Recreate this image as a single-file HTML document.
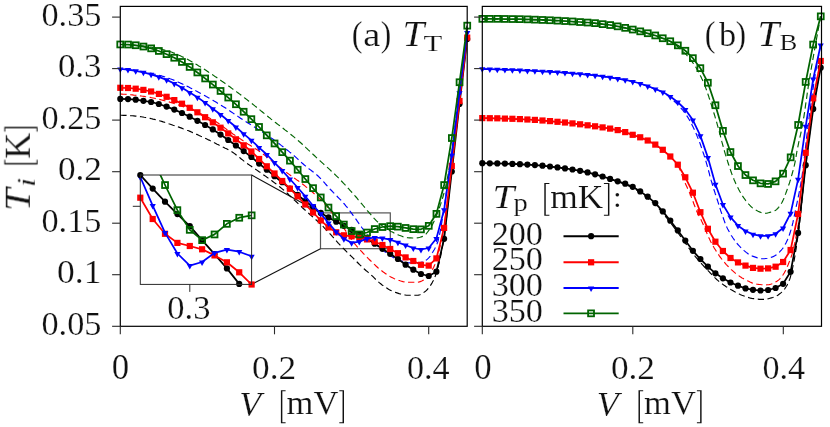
<!DOCTYPE html>
<html><head><meta charset="utf-8"><title>Ti vs V</title>
<style>
html,body{margin:0;padding:0;background:#fff;}
body{width:830px;height:427px;overflow:hidden;position:relative;font-family:"Liberation Serif",serif;}
</style></head><body>
<svg width="830" height="427" viewBox="0 0 830 427" style="position:absolute;left:0;top:0">
<defs>
<clipPath id="cl"><rect x="120.3" y="6.4" width="346.9" height="319.9"/></clipPath>
<clipPath id="cr"><rect x="482.3" y="6.4" width="339.2" height="319.9"/></clipPath>
<clipPath id="ci"><rect x="140.3" y="175.0" width="111.3" height="109.4"/></clipPath>
</defs>
<rect x="0" y="0" width="830" height="427" fill="#fff"/>
<rect x="320.5" y="212.9" width="69.8" height="35.8" fill="none" stroke="#555" stroke-width="1.2"/>
<line x1="251.6" y1="175.0" x2="320.5" y2="212.9" stroke="#111" stroke-width="1.15"/>
<line x1="251.6" y1="284.4" x2="320.5" y2="248.7" stroke="#111" stroke-width="1.15"/>
<polyline clip-path="url(#cl)" points="120.3,115.2 121.8,115.2 123.3,115.3 124.8,115.3 126.3,115.4 127.8,115.5 129.3,115.6 130.8,115.7 132.3,115.8 133.8,115.9 135.3,116.1 136.8,116.2 138.3,116.4 139.7,116.6 141.2,116.8 142.7,117.0 144.2,117.3 145.7,117.5 147.1,117.8 148.6,118.1 150.1,118.4 151.6,118.7 153.0,119.1 154.5,119.4 155.9,119.8 157.4,120.1 158.8,120.6 160.3,121.0 161.7,121.4 163.1,121.9 164.6,122.3 166.0,122.8 167.4,123.3 168.8,123.8 170.3,124.2 171.7,124.7 173.1,125.2 174.5,125.6 175.9,126.1 177.4,126.6 178.8,127.1 180.2,127.6 181.6,128.1 183.0,128.7 184.4,129.2 185.8,129.7 187.2,130.3 188.6,130.8 190.0,131.4 191.4,132.0 192.7,132.6 194.1,133.2 195.5,133.8 196.8,134.4 198.2,135.0 199.6,135.7 200.9,136.3 202.3,136.9 203.7,137.6 205.0,138.2 206.4,138.8 207.7,139.5 209.1,140.1 210.4,140.8 211.8,141.5 213.1,142.1 214.4,142.8 215.8,143.5 217.1,144.2 218.5,144.8 219.8,145.5 221.2,146.2 222.5,146.8 223.9,147.5 225.2,148.2 226.6,148.8 227.9,149.5 229.2,150.2 230.5,151.0 231.8,151.7 233.0,152.5 234.2,153.4 235.4,154.3 236.6,155.2 237.8,156.1 239.0,157.1 240.2,158.0 241.3,159.0 242.5,159.9 243.7,160.9 244.9,161.8 246.1,162.7 247.3,163.6 248.5,164.4 249.7,165.3 251.0,166.1 252.2,167.0 253.4,167.8 254.7,168.7 255.9,169.5 257.2,170.4 258.4,171.2 259.6,172.1 260.9,172.9 262.1,173.8 263.3,174.7 264.5,175.5 265.8,176.4 267.0,177.3 268.2,178.1 269.4,179.0 270.6,179.9 271.9,180.8 273.1,181.7 274.3,182.6 275.5,183.5 276.7,184.4 277.9,185.3 279.0,186.2 280.2,187.2 281.3,188.1 282.5,189.1 283.6,190.0 284.7,191.0 285.9,192.0 287.0,193.0 288.1,194.0 289.2,195.1 290.3,196.1 291.4,197.1 292.5,198.1 293.5,199.2 294.6,200.2 295.7,201.3 296.8,202.3 297.9,203.3 299.0,204.4 300.1,205.4 301.2,206.4 302.2,207.5 303.3,208.5 304.4,209.5 305.6,210.5 306.7,211.5 307.8,212.5 308.9,213.5 310.0,214.5 311.2,215.5 312.3,216.5 313.4,217.5 314.5,218.5 315.6,219.5 316.8,220.5 317.9,221.5 319.0,222.5 320.0,223.6 321.1,224.6 322.2,225.7 323.2,226.7 324.3,227.8 325.3,228.9 326.4,230.0 327.4,231.0 328.5,232.1 329.5,233.2 330.5,234.3 331.5,235.4 332.5,236.6 333.5,237.7 334.5,238.8 335.5,239.9 336.5,241.1 337.4,242.2 338.4,243.3 339.5,244.4 340.5,245.5 341.5,246.6 342.6,247.7 343.6,248.7 344.7,249.8 345.8,250.8 346.8,251.9 347.9,252.9 349.0,254.0 350.0,255.0 351.1,256.1 352.2,257.2 353.2,258.2 354.3,259.3 355.3,260.4 356.4,261.4 357.5,262.5 358.5,263.5 359.6,264.6 360.7,265.6 361.8,266.7 362.9,267.7 364.0,268.7 365.1,269.7 366.2,270.7 367.4,271.6 368.5,272.6 369.6,273.6 370.8,274.6 371.9,275.6 373.0,276.7 374.0,277.7 375.1,278.8 376.2,279.8 377.3,280.9 378.4,281.9 379.5,282.9 380.7,283.8 381.8,284.7 383.0,285.6 384.3,286.4 385.5,287.3 386.8,288.1 388.1,288.9 389.4,289.7 390.8,290.4 392.1,291.0 393.5,291.6 394.9,292.2 396.2,292.6 397.7,293.1 399.1,293.6 400.6,294.0 402.0,294.4 403.5,294.8 405.0,295.0 406.5,295.2 408.0,295.2 409.5,295.2 411.0,295.2 412.5,295.2 414.1,295.2 415.6,295.2 417.0,295.2 418.4,295.1 419.9,294.7 421.3,294.1 422.6,293.3 423.9,292.4 425.1,291.5 426.2,290.6 427.3,289.5 428.3,288.4 429.3,287.2 430.2,285.9 431.0,284.6 431.8,283.4 432.5,282.1 433.2,280.8 433.9,279.4 434.5,278.0 435.1,276.6 435.6,275.2 436.1,273.8 436.5,272.4 437.0,271.0 437.4,269.6 437.8,268.1 438.2,266.7 438.5,265.2 438.9,263.8 439.3,262.3 439.6,260.9 439.9,259.4 440.3,257.9 440.6,256.4 440.9,255.0 441.2,253.5 441.5,252.0 441.7,250.5 442.0,249.0 442.3,247.5 442.5,246.0 442.8,244.6 443.0,243.1 443.3,241.6 443.5,240.1 443.7,238.6 444.0,237.2 444.2,235.7 444.4,234.2 444.6,232.7 444.8,231.2 445.0,229.8 445.2,228.3 445.4,226.8 445.6,225.3 445.8,223.8 446.0,222.3 446.1,220.8 446.3,219.4 446.5,217.9 446.7,216.4 446.8,214.9 447.0,213.4 447.2,211.9 447.3,210.4 447.5,208.9 447.6,207.4 447.8,205.9 448.0,204.4 448.1,202.9 448.3,201.4 448.4,200.0 448.6,198.5 448.7,197.0 448.9,195.5 449.0,194.0 449.2,192.5 449.3,191.0 449.5,189.5 449.6,188.0 449.8,186.5 449.9,185.0 450.1,183.5 450.3,182.0 450.4,180.5 450.6,179.0 450.7,177.5 450.9,176.1 451.1,174.6 451.2,173.1 451.4,171.6 451.6,170.1 451.7,168.6 451.9,167.1 452.1,165.6 452.2,164.1 452.4,162.6 452.6,161.2 452.7,159.7 452.9,158.2 453.1,156.7 453.3,155.2 453.4,153.7 453.6,152.2 453.8,150.7 453.9,149.2 454.1,147.7 454.3,146.2 454.4,144.8 454.6,143.3 454.8,141.8 454.9,140.3 455.1,138.8 455.3,137.3 455.5,135.8 455.6,134.3 455.8,132.8 456.0,131.3 456.1,129.9 456.3,128.4 456.5,126.9 456.6,125.4 456.8,123.9 457.0,122.4 457.2,120.9 457.3,119.4 457.5,117.9 457.7,116.4 457.8,115.0 458.0,113.5 458.2,112.0 458.3,110.5 458.5,109.0 458.7,107.5 458.9,106.0 459.0,104.5 459.2,103.0 459.4,101.6 459.6,100.1 459.7,98.6 459.9,97.1 460.1,95.6 460.3,94.1 460.4,92.6 460.6,91.1 460.8,89.6 461.0,88.1 461.1,86.7 461.3,85.2 461.5,83.7 461.7,82.2 461.8,80.7 462.0,79.2 462.2,77.7 462.4,76.2 462.5,74.7 462.7,73.2 462.9,71.8 463.1,70.3 463.2,68.8 463.4,67.3 463.6,65.8 463.8,64.3 463.9,62.8 464.1,61.3 464.3,59.8 464.5,58.4 464.7,56.9 464.8,55.4 465.0,53.9 465.2,52.4 465.4,50.9 465.5,49.4 465.7,47.9 465.9,46.4 466.1,45.0 466.3,43.5 466.4,42.0 466.6,40.5 466.8,39.0" fill="none" stroke="#000000" stroke-width="1.15" stroke-dasharray="6.3 3.55"/>
<polyline clip-path="url(#cl)" points="120.3,94.0 121.8,94.1 123.3,94.2 124.8,94.3 126.3,94.4 127.8,94.5 129.3,94.6 130.8,94.8 132.3,94.9 133.7,95.1 135.2,95.2 136.7,95.4 138.2,95.6 139.7,95.8 141.2,96.0 142.7,96.2 144.1,96.4 145.6,96.7 147.1,96.9 148.6,97.2 150.1,97.4 151.5,97.7 153.0,98.0 154.5,98.3 155.9,98.6 157.4,98.9 158.9,99.3 160.3,99.6 161.8,100.0 163.2,100.4 164.7,100.7 166.1,101.1 167.6,101.5 169.0,101.9 170.4,102.4 171.9,102.8 173.3,103.3 174.7,103.7 176.2,104.2 177.6,104.7 179.0,105.1 180.4,105.6 181.8,106.1 183.2,106.6 184.6,107.1 186.1,107.6 187.5,108.2 188.9,108.7 190.3,109.3 191.7,109.8 193.0,110.4 194.4,111.0 195.8,111.5 197.2,112.1 198.5,112.7 199.9,113.4 201.3,114.0 202.6,114.6 204.0,115.3 205.3,115.9 206.7,116.6 208.0,117.3 209.4,118.0 210.7,118.7 212.0,119.4 213.3,120.1 214.6,120.9 215.9,121.6 217.1,122.4 218.4,123.3 219.6,124.1 220.8,125.0 222.0,125.9 223.2,126.8 224.4,127.7 225.6,128.6 226.8,129.5 228.0,130.4 229.2,131.3 230.5,132.1 231.7,133.0 232.9,133.9 234.2,134.7 235.4,135.6 236.6,136.4 237.9,137.2 239.1,138.1 240.4,138.9 241.6,139.8 242.8,140.6 244.1,141.4 245.3,142.2 246.6,143.1 247.8,143.9 249.1,144.7 250.4,145.5 251.6,146.3 252.9,147.1 254.2,147.9 255.4,148.7 256.7,149.5 258.0,150.3 259.2,151.2 260.4,152.0 261.6,152.9 262.8,153.8 264.0,154.7 265.2,155.6 266.4,156.5 267.6,157.4 268.8,158.4 269.9,159.3 271.1,160.3 272.3,161.2 273.4,162.2 274.6,163.1 275.7,164.1 276.9,165.0 278.1,165.9 279.2,166.9 280.4,167.8 281.6,168.7 282.8,169.7 284.0,170.6 285.2,171.5 286.4,172.4 287.6,173.3 288.8,174.1 290.0,175.0 291.2,175.9 292.5,176.8 293.7,177.6 294.9,178.5 296.1,179.4 297.3,180.3 298.6,181.1 299.8,182.0 301.0,182.9 302.2,183.8 303.4,184.7 304.6,185.6 305.7,186.6 306.9,187.5 308.1,188.4 309.2,189.4 310.3,190.3 311.5,191.3 312.6,192.3 313.7,193.3 314.9,194.3 316.0,195.3 317.1,196.3 318.2,197.3 319.3,198.4 320.4,199.4 321.5,200.5 322.5,201.5 323.6,202.6 324.6,203.7 325.6,204.8 326.6,205.9 327.6,207.0 328.5,208.1 329.5,209.3 330.4,210.5 331.2,211.7 332.1,212.9 333.0,214.2 333.8,215.4 334.7,216.6 335.6,217.9 336.5,219.1 337.4,220.2 338.3,221.4 339.3,222.6 340.2,223.8 341.1,225.0 342.0,226.1 343.0,227.3 343.9,228.5 344.8,229.7 345.7,230.9 346.5,232.1 347.4,233.4 348.2,234.6 349.0,235.9 349.9,237.1 350.7,238.4 351.6,239.6 352.4,240.8 353.3,242.0 354.3,243.2 355.2,244.3 356.2,245.5 357.1,246.6 358.1,247.7 359.1,248.9 360.2,250.0 361.2,251.1 362.2,252.2 363.2,253.3 364.2,254.4 365.3,255.4 366.3,256.5 367.4,257.6 368.4,258.7 369.5,259.7 370.6,260.7 371.6,261.8 372.7,262.8 373.8,263.9 374.9,264.9 376.0,266.0 377.1,267.0 378.2,268.0 379.4,268.9 380.5,269.9 381.7,270.8 382.9,271.7 384.1,272.6 385.3,273.4 386.6,274.3 387.9,275.1 389.1,276.0 390.4,276.7 391.8,277.4 393.1,278.1 394.4,278.7 395.8,279.2 397.2,279.7 398.6,280.3 400.1,280.8 401.5,281.2 403.0,281.6 404.5,281.9 406.0,282.1 407.5,282.2 408.9,282.2 410.5,282.2 412.0,282.2 413.5,282.2 415.0,282.2 416.5,282.2 417.9,282.2 419.4,281.9 420.8,281.4 422.2,280.7 423.6,279.9 424.8,279.1 426.0,278.3 427.0,277.3 428.1,276.1 429.0,274.9 429.9,273.7 430.8,272.4 431.6,271.1 432.3,269.8 433.0,268.5 433.7,267.2 434.3,265.8 434.9,264.4 435.4,263.0 435.9,261.6 436.4,260.2 436.9,258.7 437.3,257.3 437.7,255.9 438.1,254.5 438.5,253.0 438.9,251.6 439.2,250.1 439.6,248.7 439.9,247.2 440.3,245.7 440.6,244.3 440.9,242.8 441.2,241.3 441.5,239.8 441.8,238.3 442.1,236.9 442.4,235.4 442.7,233.9 442.9,232.4 443.2,230.9 443.4,229.5 443.7,228.0 443.9,226.5 444.2,225.0 444.4,223.6 444.6,222.1 444.8,220.6 445.1,219.1 445.3,217.7 445.5,216.2 445.7,214.7 445.9,213.2 446.1,211.7 446.3,210.2 446.5,208.8 446.7,207.3 446.8,205.8 447.0,204.3 447.2,202.8 447.4,201.3 447.6,199.8 447.7,198.3 447.9,196.8 448.1,195.4 448.2,193.9 448.4,192.4 448.6,190.9 448.7,189.4 448.9,187.9 449.1,186.4 449.2,184.9 449.4,183.4 449.6,181.9 449.7,180.4 449.9,179.0 450.1,177.5 450.2,176.0 450.4,174.5 450.6,173.0 450.7,171.5 450.9,170.0 451.1,168.5 451.3,167.0 451.5,165.5 451.6,164.1 451.8,162.6 452.0,161.1 452.2,159.6 452.4,158.1 452.5,156.6 452.7,155.1 452.9,153.6 453.1,152.2 453.2,150.7 453.4,149.2 453.6,147.7 453.8,146.2 453.9,144.7 454.1,143.2 454.3,141.7 454.5,140.3 454.6,138.8 454.8,137.3 455.0,135.8 455.2,134.3 455.3,132.8 455.5,131.3 455.7,129.8 455.9,128.3 456.0,126.9 456.2,125.4 456.4,123.9 456.6,122.4 456.7,120.9 456.9,119.4 457.1,117.9 457.3,116.4 457.4,115.0 457.6,113.5 457.8,112.0 458.0,110.5 458.1,109.0 458.3,107.5 458.5,106.0 458.7,104.5 458.9,103.0 459.0,101.6 459.2,100.1 459.4,98.6 459.6,97.1 459.7,95.6 459.9,94.1 460.1,92.6 460.3,91.1 460.5,89.7 460.6,88.2 460.8,86.7 461.0,85.2 461.2,83.7 461.4,82.2 461.5,80.7 461.7,79.2 461.9,77.8 462.1,76.3 462.3,74.8 462.4,73.3 462.6,71.8 462.8,70.3 463.0,68.8 463.2,67.3 463.3,65.9 463.5,64.4 463.7,62.9 463.9,61.4 464.1,59.9 464.3,58.4 464.4,56.9 464.6,55.4 464.8,54.0 465.0,52.5 465.2,51.0 465.3,49.5 465.5,48.0 465.7,46.5 465.9,45.0 466.1,43.5 466.3,42.1 466.4,40.6 466.6,39.1 466.8,37.6" fill="none" stroke="#ff0000" stroke-width="1.15" stroke-dasharray="6.3 3.55"/>
<polyline clip-path="url(#cl)" points="120.3,69.0 121.8,69.1 123.3,69.2 124.8,69.4 126.3,69.5 127.8,69.7 129.2,69.8 130.7,70.0 132.2,70.2 133.7,70.3 135.2,70.5 136.7,70.7 138.1,70.9 139.6,71.2 141.1,71.4 142.6,71.7 144.1,71.9 145.5,72.2 147.0,72.5 148.5,72.8 149.9,73.1 151.4,73.4 152.9,73.7 154.3,74.1 155.8,74.4 157.2,74.8 158.7,75.2 160.1,75.6 161.6,76.0 163.0,76.4 164.4,76.8 165.8,77.3 167.3,77.8 168.7,78.2 170.1,78.8 171.5,79.3 172.9,79.8 174.3,80.4 175.6,81.0 177.0,81.6 178.4,82.2 179.8,82.8 181.1,83.4 182.5,84.0 183.8,84.7 185.2,85.3 186.5,86.0 187.9,86.6 189.2,87.3 190.5,88.0 191.9,88.7 193.2,89.4 194.5,90.1 195.8,90.8 197.2,91.5 198.5,92.2 199.8,92.9 201.1,93.6 202.4,94.4 203.7,95.1 205.0,95.8 206.3,96.6 207.6,97.3 208.9,98.0 210.2,98.8 211.5,99.6 212.8,100.3 214.1,101.1 215.4,101.8 216.7,102.6 217.9,103.4 219.2,104.2 220.5,105.0 221.8,105.7 223.0,106.5 224.3,107.3 225.6,108.1 226.8,108.9 228.1,109.8 229.3,110.6 230.6,111.4 231.8,112.2 233.1,113.1 234.3,113.9 235.5,114.8 236.8,115.6 238.0,116.5 239.2,117.3 240.5,118.2 241.7,119.0 242.9,119.8 244.2,120.6 245.5,121.4 246.7,122.2 248.0,123.0 249.3,123.8 250.5,124.6 251.8,125.4 253.1,126.2 254.4,127.0 255.6,127.8 256.9,128.6 258.1,129.4 259.4,130.2 260.7,131.0 261.9,131.8 263.2,132.6 264.4,133.4 265.7,134.2 266.9,135.1 268.2,135.9 269.4,136.7 270.7,137.6 271.9,138.4 273.1,139.3 274.3,140.2 275.5,141.1 276.7,141.9 277.9,142.8 279.1,143.7 280.3,144.6 281.5,145.6 282.7,146.5 283.9,147.4 285.1,148.3 286.2,149.3 287.4,150.2 288.6,151.1 289.7,152.1 290.9,153.0 292.0,154.0 293.2,155.0 294.3,155.9 295.4,156.9 296.5,157.9 297.6,158.9 298.7,159.9 299.8,161.0 300.9,162.0 302.0,163.0 303.2,164.0 304.3,165.0 305.4,165.9 306.6,166.9 307.8,167.8 308.9,168.7 310.1,169.6 311.3,170.5 312.5,171.5 313.7,172.4 314.9,173.3 316.0,174.3 317.2,175.2 318.3,176.2 319.3,177.3 320.4,178.3 321.4,179.4 322.4,180.5 323.4,181.6 324.4,182.7 325.4,183.9 326.4,185.0 327.4,186.1 328.4,187.2 329.4,188.4 330.4,189.5 331.5,190.5 332.5,191.6 333.5,192.7 334.6,193.8 335.6,194.8 336.7,195.9 337.7,197.0 338.8,198.1 339.8,199.1 340.9,200.2 341.9,201.3 342.9,202.4 343.9,203.5 344.9,204.6 345.8,205.8 346.8,206.9 347.7,208.1 348.6,209.3 349.5,210.5 350.4,211.7 351.3,212.9 352.2,214.1 353.1,215.3 354.0,216.5 354.8,217.7 355.7,218.9 356.6,220.2 357.4,221.4 358.3,222.6 359.2,223.8 360.0,225.0 360.9,226.2 361.8,227.5 362.7,228.7 363.6,229.9 364.5,231.1 365.4,232.2 366.3,233.4 367.3,234.6 368.2,235.7 369.2,236.9 370.2,238.0 371.2,239.1 372.2,240.2 373.2,241.3 374.3,242.4 375.3,243.4 376.4,244.4 377.5,245.5 378.6,246.5 379.7,247.5 380.9,248.5 382.0,249.4 383.2,250.4 384.3,251.4 385.5,252.3 386.6,253.3 387.8,254.2 389.0,255.1 390.3,255.8 391.6,256.6 392.9,257.3 394.2,258.1 395.6,258.7 396.9,259.3 398.3,259.9 399.7,260.4 401.1,260.9 402.6,261.3 404.0,261.8 405.5,262.2 407.0,262.5 408.4,262.8 409.9,262.9 411.4,262.9 412.9,262.9 414.4,262.8 415.9,262.8 417.4,262.7 418.9,262.6 420.4,262.5 421.8,262.1 423.3,261.6 424.7,260.9 426.0,260.2 427.2,259.4 428.2,258.4 429.2,257.3 430.2,256.1 431.0,254.8 431.9,253.5 432.7,252.2 433.4,251.0 434.2,249.7 435.0,248.3 435.7,247.0 436.3,245.6 436.9,244.3 437.4,242.9 437.9,241.5 438.3,240.1 438.6,238.7 439.0,237.2 439.3,235.8 439.6,234.3 439.9,232.9 440.2,231.4 440.5,229.9 440.8,228.5 441.0,227.0 441.3,225.5 441.5,224.0 441.8,222.5 442.0,221.0 442.2,219.5 442.4,218.0 442.7,216.5 442.9,215.0 443.1,213.5 443.3,212.0 443.6,210.6 443.8,209.1 444.1,207.6 444.3,206.1 444.5,204.6 444.7,203.2 445.0,201.7 445.2,200.2 445.4,198.7 445.6,197.3 445.9,195.8 446.1,194.3 446.3,192.8 446.5,191.3 446.7,189.8 446.9,188.4 447.1,186.9 447.3,185.4 447.5,183.9 447.8,182.4 448.0,181.0 448.2,179.5 448.4,178.0 448.6,176.5 448.8,175.0 449.0,173.5 449.2,172.1 449.4,170.6 449.5,169.1 449.7,167.6 449.9,166.1 450.1,164.6 450.3,163.1 450.5,161.7 450.7,160.2 450.9,158.7 451.1,157.2 451.3,155.7 451.5,154.2 451.7,152.8 451.9,151.3 452.1,149.8 452.3,148.3 452.5,146.8 452.6,145.3 452.8,143.9 453.0,142.4 453.2,140.9 453.4,139.4 453.6,137.9 453.8,136.4 453.9,134.9 454.1,133.5 454.3,132.0 454.5,130.5 454.7,129.0 454.9,127.5 455.0,126.0 455.2,124.6 455.4,123.1 455.6,121.6 455.8,120.1 455.9,118.6 456.1,117.1 456.3,115.6 456.5,114.2 456.7,112.7 456.8,111.2 457.0,109.7 457.2,108.2 457.4,106.7 457.6,105.2 457.7,103.8 457.9,102.3 458.1,100.8 458.3,99.3 458.5,97.8 458.7,96.3 458.8,94.8 459.0,93.4 459.2,91.9 459.4,90.4 459.6,88.9 459.8,87.4 460.0,85.9 460.2,84.5 460.3,83.0 460.5,81.5 460.7,80.0 460.9,78.5 461.1,77.0 461.3,75.5 461.5,74.1 461.7,72.6 461.8,71.1 462.0,69.6 462.2,68.1 462.4,66.6 462.6,65.2 462.8,63.7 463.0,62.2 463.2,60.7 463.4,59.2 463.5,57.7 463.7,56.2 463.9,54.8 464.1,53.3 464.3,51.8 464.5,50.3 464.7,48.8 464.9,47.3 465.1,45.9 465.3,44.4 465.5,42.9 465.6,41.4 465.8,39.9 466.0,38.4 466.2,37.0 466.4,35.5 466.6,34.0 466.8,32.5" fill="none" stroke="#0000ff" stroke-width="1.15" stroke-dasharray="6.3 3.55"/>
<polyline clip-path="url(#cl)" points="120.3,44.5 121.8,44.5 123.3,44.5 124.8,44.6 126.3,44.6 127.8,44.7 129.3,44.8 130.8,44.9 132.3,45.0 133.8,45.1 135.3,45.2 136.8,45.3 138.3,45.4 139.7,45.6 141.2,45.7 142.7,45.9 144.2,46.1 145.7,46.4 147.2,46.6 148.7,46.8 150.1,47.1 151.6,47.3 153.1,47.6 154.6,47.8 156.1,48.1 157.5,48.4 159.0,48.7 160.5,49.0 161.9,49.3 163.4,49.7 164.8,50.1 166.3,50.4 167.7,50.9 169.1,51.3 170.5,51.8 172.0,52.3 173.4,52.9 174.8,53.4 176.1,54.0 177.5,54.6 178.9,55.2 180.3,55.8 181.6,56.5 183.0,57.1 184.3,57.8 185.7,58.4 187.0,59.1 188.3,59.8 189.6,60.6 190.9,61.3 192.2,62.0 193.5,62.8 194.8,63.6 196.1,64.3 197.4,65.1 198.7,65.9 200.0,66.6 201.3,67.4 202.5,68.2 203.8,69.0 205.1,69.8 206.3,70.6 207.6,71.5 208.8,72.3 210.1,73.1 211.3,74.0 212.6,74.8 213.8,75.6 215.0,76.5 216.3,77.3 217.5,78.1 218.8,79.0 220.0,79.9 221.2,80.7 222.4,81.6 223.7,82.4 224.9,83.3 226.1,84.2 227.3,85.1 228.5,85.9 229.8,86.8 231.0,87.7 232.2,88.6 233.4,89.5 234.6,90.3 235.8,91.2 237.0,92.1 238.2,93.0 239.4,93.9 240.6,94.8 241.8,95.7 243.0,96.6 244.2,97.6 245.4,98.5 246.6,99.4 247.7,100.3 248.9,101.2 250.1,102.1 251.3,103.1 252.5,104.0 253.6,104.9 254.8,105.9 256.0,106.8 257.1,107.7 258.3,108.7 259.5,109.6 260.6,110.6 261.8,111.5 263.0,112.5 264.1,113.4 265.3,114.4 266.4,115.3 267.6,116.2 268.8,117.2 270.0,118.1 271.1,119.1 272.3,120.0 273.5,120.9 274.6,121.9 275.8,122.8 277.0,123.7 278.2,124.6 279.4,125.5 280.6,126.4 281.8,127.4 283.0,128.3 284.2,129.2 285.3,130.1 286.5,131.0 287.7,131.9 288.9,132.9 290.1,133.8 291.2,134.7 292.4,135.7 293.6,136.6 294.7,137.6 295.9,138.5 297.0,139.5 298.1,140.5 299.2,141.5 300.4,142.5 301.5,143.5 302.6,144.5 303.7,145.5 304.8,146.5 305.9,147.6 307.0,148.6 308.0,149.6 309.1,150.6 310.2,151.7 311.3,152.7 312.4,153.7 313.5,154.8 314.6,155.8 315.7,156.8 316.8,157.9 317.9,158.9 319.0,159.9 320.1,160.9 321.2,161.9 322.3,162.9 323.4,163.9 324.5,164.9 325.7,165.9 326.8,166.9 327.9,167.9 329.0,168.9 330.1,169.9 331.2,171.0 332.3,172.0 333.4,173.0 334.5,174.0 335.6,175.1 336.6,176.1 337.7,177.2 338.7,178.2 339.8,179.3 340.8,180.4 341.9,181.5 342.9,182.6 343.9,183.7 344.9,184.7 346.0,185.8 347.0,187.0 348.0,188.1 349.0,189.2 350.0,190.3 351.0,191.4 352.0,192.5 353.0,193.6 354.0,194.8 355.0,195.9 356.0,197.0 357.0,198.1 357.9,199.3 358.9,200.4 359.9,201.6 360.8,202.7 361.8,203.9 362.7,205.0 363.7,206.2 364.7,207.3 365.6,208.5 366.6,209.7 367.5,210.8 368.5,211.9 369.5,213.1 370.5,214.2 371.4,215.3 372.4,216.5 373.4,217.6 374.4,218.7 375.5,219.8 376.5,220.9 377.6,221.9 378.7,222.9 379.9,223.8 381.0,224.8 382.2,225.7 383.5,226.6 384.7,227.4 385.9,228.3 387.2,229.1 388.5,229.9 389.7,230.7 391.0,231.4 392.4,232.1 393.7,232.8 395.0,233.5 396.4,234.1 397.8,234.7 399.2,235.3 400.6,235.8 402.0,236.3 403.4,236.9 404.9,237.3 406.3,237.6 407.8,237.8 409.3,237.9 410.8,237.9 412.3,238.0 413.8,238.0 415.3,238.0 416.8,237.9 418.3,237.7 419.9,237.3 421.3,236.9 422.6,236.4 423.8,235.8 425.0,234.9 426.1,233.9 427.1,232.7 428.1,231.4 429.0,230.1 429.9,228.8 430.7,227.6 431.4,226.4 432.2,225.1 432.9,223.8 433.5,222.4 434.2,221.0 434.8,219.6 435.4,218.2 436.0,216.8 436.6,215.4 437.1,214.0 437.7,212.6 438.2,211.2 438.7,209.8 439.2,208.4 439.7,207.0 440.2,205.6 440.7,204.2 441.1,202.7 441.6,201.3 442.0,199.9 442.5,198.4 442.9,197.0 443.3,195.5 443.7,194.1 444.1,192.6 444.5,191.2 444.9,189.7 445.2,188.3 445.6,186.8 445.9,185.4 446.2,183.9 446.5,182.5 446.9,181.0 447.1,179.5 447.4,178.1 447.7,176.6 448.0,175.1 448.3,173.7 448.5,172.2 448.8,170.7 449.0,169.2 449.3,167.8 449.5,166.3 449.8,164.8 450.0,163.3 450.2,161.8 450.5,160.3 450.7,158.9 450.9,157.4 451.2,155.9 451.4,154.4 451.6,152.9 451.8,151.4 452.0,149.9 452.3,148.5 452.5,147.0 452.7,145.5 452.9,144.0 453.1,142.5 453.3,141.0 453.6,139.5 453.8,138.1 454.0,136.6 454.2,135.1 454.5,133.6 454.7,132.1 454.9,130.7 455.1,129.2 455.3,127.7 455.5,126.2 455.8,124.7 456.0,123.2 456.2,121.8 456.4,120.3 456.6,118.8 456.8,117.3 457.0,115.8 457.2,114.3 457.4,112.8 457.6,111.4 457.8,109.9 458.0,108.4 458.2,106.9 458.4,105.4 458.6,103.9 458.8,102.4 459.0,101.0 459.2,99.5 459.4,98.0 459.6,96.5 459.8,95.0 460.0,93.5 460.2,92.0 460.4,90.6 460.6,89.1 460.8,87.6 461.0,86.1 461.2,84.6 461.4,83.1 461.6,81.6 461.8,80.2 462.0,78.7 462.2,77.2 462.4,75.7 462.6,74.2 462.7,72.7 462.9,71.2 463.1,69.8 463.3,68.3 463.5,66.8 463.7,65.3 463.9,63.8 464.1,62.3 464.3,60.8 464.4,59.3 464.6,57.9 464.8,56.4 465.0,54.9 465.2,53.4 465.4,51.9 465.5,50.4 465.7,48.9 465.9,47.4 466.1,46.0 466.3,44.5 466.4,43.0 466.6,41.5 466.8,40.0" fill="none" stroke="#006400" stroke-width="1.15" stroke-dasharray="6.3 3.55"/>
<polyline clip-path="url(#cl)" points="120.3,98.9 128.0,99.1 135.7,99.7 143.4,100.8 151.1,102.0 158.8,104.0 166.6,106.6 174.3,109.6 182.0,113.0 189.7,116.7 197.4,120.8 205.1,125.0 212.8,129.4 220.5,134.6 228.2,140.0 235.9,145.5 243.7,151.1 251.4,157.0 259.1,163.6 266.8,169.7 274.5,176.2 282.2,182.2 289.9,188.5 297.6,194.9 305.3,201.0 313.1,207.2 320.8,212.9 328.5,217.4 336.2,221.7 343.9,225.8 351.6,229.8 359.3,234.4 367.0,239.0 374.7,243.7 382.4,248.8 390.2,253.9 397.9,258.9 405.6,264.7 413.3,269.7 421.0,274.0 428.7,276.0 436.4,271.7 444.1,238.8 451.8,171.5 459.5,104.0 467.2,39.0" fill="none" stroke="#000000" stroke-width="1.75" stroke-linejoin="round"/>
<g><circle cx="120.3" cy="98.9" r="3.10" fill="#000"/><circle cx="128.0" cy="99.1" r="3.10" fill="#000"/><circle cx="135.7" cy="99.7" r="3.10" fill="#000"/><circle cx="143.4" cy="100.8" r="3.10" fill="#000"/><circle cx="151.1" cy="102.0" r="3.10" fill="#000"/><circle cx="158.8" cy="104.0" r="3.10" fill="#000"/><circle cx="166.6" cy="106.6" r="3.10" fill="#000"/><circle cx="174.3" cy="109.6" r="3.10" fill="#000"/><circle cx="182.0" cy="113.0" r="3.10" fill="#000"/><circle cx="189.7" cy="116.7" r="3.10" fill="#000"/><circle cx="197.4" cy="120.8" r="3.10" fill="#000"/><circle cx="205.1" cy="125.0" r="3.10" fill="#000"/><circle cx="212.8" cy="129.4" r="3.10" fill="#000"/><circle cx="220.5" cy="134.6" r="3.10" fill="#000"/><circle cx="228.2" cy="140.0" r="3.10" fill="#000"/><circle cx="235.9" cy="145.5" r="3.10" fill="#000"/><circle cx="243.7" cy="151.1" r="3.10" fill="#000"/><circle cx="251.4" cy="157.0" r="3.10" fill="#000"/><circle cx="259.1" cy="163.6" r="3.10" fill="#000"/><circle cx="266.8" cy="169.7" r="3.10" fill="#000"/><circle cx="274.5" cy="176.2" r="3.10" fill="#000"/><circle cx="282.2" cy="182.2" r="3.10" fill="#000"/><circle cx="289.9" cy="188.5" r="3.10" fill="#000"/><circle cx="297.6" cy="194.9" r="3.10" fill="#000"/><circle cx="305.3" cy="201.0" r="3.10" fill="#000"/><circle cx="313.1" cy="207.2" r="3.10" fill="#000"/><circle cx="320.8" cy="212.9" r="3.10" fill="#000"/><circle cx="328.5" cy="217.4" r="3.10" fill="#000"/><circle cx="336.2" cy="221.7" r="3.10" fill="#000"/><circle cx="343.9" cy="225.8" r="3.10" fill="#000"/><circle cx="351.6" cy="229.8" r="3.10" fill="#000"/><circle cx="359.3" cy="234.4" r="3.10" fill="#000"/><circle cx="367.0" cy="239.0" r="3.10" fill="#000"/><circle cx="374.7" cy="243.7" r="3.10" fill="#000"/><circle cx="382.4" cy="248.8" r="3.10" fill="#000"/><circle cx="390.2" cy="253.9" r="3.10" fill="#000"/><circle cx="397.9" cy="258.9" r="3.10" fill="#000"/><circle cx="405.6" cy="264.7" r="3.10" fill="#000"/><circle cx="413.3" cy="269.7" r="3.10" fill="#000"/><circle cx="421.0" cy="274.0" r="3.10" fill="#000"/><circle cx="428.7" cy="276.0" r="3.10" fill="#000"/><circle cx="436.4" cy="271.7" r="3.10" fill="#000"/><circle cx="444.1" cy="238.8" r="3.10" fill="#000"/><circle cx="451.8" cy="171.5" r="3.10" fill="#000"/><circle cx="459.5" cy="104.0" r="3.10" fill="#000"/><circle cx="467.2" cy="39.0" r="3.10" fill="#000"/></g>
<polyline clip-path="url(#cl)" points="120.3,87.8 128.0,88.0 135.7,88.7 143.4,89.9 151.1,91.5 158.8,93.9 166.6,96.8 174.3,100.1 182.0,103.7 189.7,107.8 197.4,112.3 205.1,117.2 212.8,122.3 220.5,127.7 228.2,133.4 235.9,139.3 243.7,145.3 251.4,151.5 259.1,159.0 266.8,166.3 274.5,173.5 282.2,181.0 289.9,188.7 297.6,196.3 305.3,204.5 313.1,212.5 320.8,220.4 328.5,227.4 336.2,232.3 343.9,235.3 351.6,236.3 359.3,237.4 367.0,239.4 374.7,241.7 382.4,245.0 390.2,249.0 397.9,253.2 405.6,257.4 413.3,261.0 421.0,264.8 428.7,265.6 436.4,258.4 444.1,227.9 451.8,166.0 459.5,101.0 467.2,37.6" fill="none" stroke="#ff0000" stroke-width="1.75" stroke-linejoin="round"/>
<g><rect x="117.2" y="84.7" width="6.2" height="6.2" fill="#f00"/><rect x="124.9" y="84.9" width="6.2" height="6.2" fill="#f00"/><rect x="132.6" y="85.6" width="6.2" height="6.2" fill="#f00"/><rect x="140.3" y="86.8" width="6.2" height="6.2" fill="#f00"/><rect x="148.0" y="88.4" width="6.2" height="6.2" fill="#f00"/><rect x="155.8" y="90.8" width="6.2" height="6.2" fill="#f00"/><rect x="163.5" y="93.7" width="6.2" height="6.2" fill="#f00"/><rect x="171.2" y="97.0" width="6.2" height="6.2" fill="#f00"/><rect x="178.9" y="100.6" width="6.2" height="6.2" fill="#f00"/><rect x="186.6" y="104.7" width="6.2" height="6.2" fill="#f00"/><rect x="194.3" y="109.2" width="6.2" height="6.2" fill="#f00"/><rect x="202.0" y="114.1" width="6.2" height="6.2" fill="#f00"/><rect x="209.7" y="119.2" width="6.2" height="6.2" fill="#f00"/><rect x="217.4" y="124.6" width="6.2" height="6.2" fill="#f00"/><rect x="225.1" y="130.3" width="6.2" height="6.2" fill="#f00"/><rect x="232.8" y="136.2" width="6.2" height="6.2" fill="#f00"/><rect x="240.6" y="142.2" width="6.2" height="6.2" fill="#f00"/><rect x="248.3" y="148.4" width="6.2" height="6.2" fill="#f00"/><rect x="256.0" y="155.9" width="6.2" height="6.2" fill="#f00"/><rect x="263.7" y="163.2" width="6.2" height="6.2" fill="#f00"/><rect x="271.4" y="170.4" width="6.2" height="6.2" fill="#f00"/><rect x="279.1" y="177.9" width="6.2" height="6.2" fill="#f00"/><rect x="286.8" y="185.6" width="6.2" height="6.2" fill="#f00"/><rect x="294.5" y="193.2" width="6.2" height="6.2" fill="#f00"/><rect x="302.2" y="201.4" width="6.2" height="6.2" fill="#f00"/><rect x="309.9" y="209.4" width="6.2" height="6.2" fill="#f00"/><rect x="317.7" y="217.3" width="6.2" height="6.2" fill="#f00"/><rect x="325.4" y="224.3" width="6.2" height="6.2" fill="#f00"/><rect x="333.1" y="229.2" width="6.2" height="6.2" fill="#f00"/><rect x="340.8" y="232.2" width="6.2" height="6.2" fill="#f00"/><rect x="348.5" y="233.2" width="6.2" height="6.2" fill="#f00"/><rect x="356.2" y="234.3" width="6.2" height="6.2" fill="#f00"/><rect x="363.9" y="236.3" width="6.2" height="6.2" fill="#f00"/><rect x="371.6" y="238.6" width="6.2" height="6.2" fill="#f00"/><rect x="379.3" y="241.9" width="6.2" height="6.2" fill="#f00"/><rect x="387.1" y="245.9" width="6.2" height="6.2" fill="#f00"/><rect x="394.8" y="250.1" width="6.2" height="6.2" fill="#f00"/><rect x="402.5" y="254.3" width="6.2" height="6.2" fill="#f00"/><rect x="410.2" y="257.9" width="6.2" height="6.2" fill="#f00"/><rect x="417.9" y="261.7" width="6.2" height="6.2" fill="#f00"/><rect x="425.6" y="262.5" width="6.2" height="6.2" fill="#f00"/><rect x="433.3" y="255.3" width="6.2" height="6.2" fill="#f00"/><rect x="441.0" y="224.8" width="6.2" height="6.2" fill="#f00"/><rect x="448.7" y="162.9" width="6.2" height="6.2" fill="#f00"/><rect x="456.4" y="97.9" width="6.2" height="6.2" fill="#f00"/><rect x="464.1" y="34.5" width="6.2" height="6.2" fill="#f00"/></g>
<polyline clip-path="url(#cl)" points="120.3,69.0 128.0,69.7 135.7,70.9 143.4,72.4 151.1,74.4 158.8,76.9 166.6,79.9 174.3,83.5 182.0,87.8 189.7,92.5 197.4,97.3 205.1,102.6 212.8,108.8 220.5,114.5 228.2,120.7 235.9,127.0 243.7,133.9 251.4,140.3 259.1,147.6 266.8,154.5 274.5,162.6 282.2,170.6 289.9,179.0 297.6,187.5 305.3,196.3 313.1,205.7 320.8,213.6 328.5,223.0 336.2,231.9 343.9,238.8 351.6,242.8 359.3,241.6 367.0,238.6 374.7,237.5 382.4,238.2 390.2,239.7 397.9,242.4 405.6,245.2 413.3,248.0 421.0,249.5 428.7,248.0 436.4,238.5 444.1,209.8 451.8,155.0 459.5,92.8 467.2,32.5" fill="none" stroke="#0000ff" stroke-width="1.75" stroke-linejoin="round"/>
<g><path d="M117.2 67.4L123.4 67.4L120.3 72.9Z" fill="#00f"/><path d="M124.9 68.1L131.1 68.1L128.0 73.6Z" fill="#00f"/><path d="M132.6 69.3L138.8 69.3L135.7 74.8Z" fill="#00f"/><path d="M140.3 70.8L146.5 70.8L143.4 76.3Z" fill="#00f"/><path d="M148.0 72.8L154.2 72.8L151.1 78.3Z" fill="#00f"/><path d="M155.8 75.3L161.9 75.3L158.8 80.8Z" fill="#00f"/><path d="M163.5 78.3L169.7 78.3L166.6 83.8Z" fill="#00f"/><path d="M171.2 81.9L177.4 81.9L174.3 87.4Z" fill="#00f"/><path d="M178.9 86.2L185.1 86.2L182.0 91.7Z" fill="#00f"/><path d="M186.6 90.9L192.8 90.9L189.7 96.4Z" fill="#00f"/><path d="M194.3 95.7L200.5 95.7L197.4 101.2Z" fill="#00f"/><path d="M202.0 101.0L208.2 101.0L205.1 106.5Z" fill="#00f"/><path d="M209.7 107.2L215.9 107.2L212.8 112.7Z" fill="#00f"/><path d="M217.4 112.9L223.6 112.9L220.5 118.4Z" fill="#00f"/><path d="M225.1 119.1L231.3 119.1L228.2 124.6Z" fill="#00f"/><path d="M232.8 125.4L239.0 125.4L235.9 130.9Z" fill="#00f"/><path d="M240.6 132.3L246.8 132.3L243.7 137.8Z" fill="#00f"/><path d="M248.3 138.7L254.5 138.7L251.4 144.2Z" fill="#00f"/><path d="M256.0 146.0L262.2 146.0L259.1 151.5Z" fill="#00f"/><path d="M263.7 152.9L269.9 152.9L266.8 158.4Z" fill="#00f"/><path d="M271.4 161.0L277.6 161.0L274.5 166.5Z" fill="#00f"/><path d="M279.1 169.0L285.3 169.0L282.2 174.5Z" fill="#00f"/><path d="M286.8 177.4L293.0 177.4L289.9 182.9Z" fill="#00f"/><path d="M294.5 185.9L300.7 185.9L297.6 191.4Z" fill="#00f"/><path d="M302.2 194.7L308.4 194.7L305.3 200.2Z" fill="#00f"/><path d="M309.9 204.1L316.2 204.1L313.1 209.6Z" fill="#00f"/><path d="M317.7 212.0L323.9 212.0L320.8 217.5Z" fill="#00f"/><path d="M325.4 221.4L331.6 221.4L328.5 226.9Z" fill="#00f"/><path d="M333.1 230.3L339.3 230.3L336.2 235.8Z" fill="#00f"/><path d="M340.8 237.2L347.0 237.2L343.9 242.7Z" fill="#00f"/><path d="M348.5 241.2L354.7 241.2L351.6 246.7Z" fill="#00f"/><path d="M356.2 240.0L362.4 240.0L359.3 245.5Z" fill="#00f"/><path d="M363.9 237.0L370.1 237.0L367.0 242.5Z" fill="#00f"/><path d="M371.6 235.9L377.8 235.9L374.7 241.4Z" fill="#00f"/><path d="M379.3 236.6L385.5 236.6L382.4 242.1Z" fill="#00f"/><path d="M387.1 238.1L393.3 238.1L390.2 243.6Z" fill="#00f"/><path d="M394.8 240.8L401.0 240.8L397.9 246.3Z" fill="#00f"/><path d="M402.5 243.6L408.7 243.6L405.6 249.1Z" fill="#00f"/><path d="M410.2 246.4L416.4 246.4L413.3 251.9Z" fill="#00f"/><path d="M417.9 247.9L424.1 247.9L421.0 253.4Z" fill="#00f"/><path d="M425.6 246.4L431.8 246.4L428.7 251.9Z" fill="#00f"/><path d="M433.3 236.9L439.5 236.9L436.4 242.4Z" fill="#00f"/><path d="M441.0 208.2L447.2 208.2L444.1 213.7Z" fill="#00f"/><path d="M448.7 153.4L454.9 153.4L451.8 158.9Z" fill="#00f"/><path d="M456.4 91.2L462.6 91.2L459.5 96.7Z" fill="#00f"/><path d="M464.1 30.9L470.4 30.9L467.2 36.4Z" fill="#00f"/></g>
<polyline clip-path="url(#cl)" points="120.3,44.5 128.0,44.6 135.7,45.3 143.4,46.6 151.1,48.4 158.8,51.0 166.6,54.2 174.3,57.8 182.0,62.0 189.7,66.9 197.4,72.5 205.1,78.4 212.8,84.6 220.5,91.0 228.2,97.6 235.9,104.3 243.7,111.7 251.4,119.2 259.1,127.0 266.8,135.3 274.5,143.4 282.2,152.2 289.9,160.6 297.6,169.7 305.3,179.0 313.1,188.2 320.8,197.4 328.5,207.5 336.2,216.2 343.9,224.5 351.6,231.0 359.3,234.4 367.0,232.5 374.7,229.0 382.4,227.0 390.2,226.2 397.9,226.6 405.6,227.9 413.3,229.2 421.0,229.3 428.7,225.8 436.4,213.8 444.1,185.0 451.8,138.0 459.5,82.3 467.2,25.6" fill="none" stroke="#006400" stroke-width="1.75" stroke-linejoin="round"/>
<g><rect x="117.3" y="41.5" width="5.9" height="5.9" fill="none" stroke="#006400" stroke-width="1.8"/><rect x="125.1" y="41.6" width="5.9" height="5.9" fill="none" stroke="#006400" stroke-width="1.8"/><rect x="132.8" y="42.3" width="5.9" height="5.9" fill="none" stroke="#006400" stroke-width="1.8"/><rect x="140.5" y="43.6" width="5.9" height="5.9" fill="none" stroke="#006400" stroke-width="1.8"/><rect x="148.2" y="45.4" width="5.9" height="5.9" fill="none" stroke="#006400" stroke-width="1.8"/><rect x="155.9" y="48.0" width="5.9" height="5.9" fill="none" stroke="#006400" stroke-width="1.8"/><rect x="163.6" y="51.2" width="5.9" height="5.9" fill="none" stroke="#006400" stroke-width="1.8"/><rect x="171.3" y="54.8" width="5.9" height="5.9" fill="none" stroke="#006400" stroke-width="1.8"/><rect x="179.0" y="59.0" width="5.9" height="5.9" fill="none" stroke="#006400" stroke-width="1.8"/><rect x="186.7" y="64.0" width="5.9" height="5.9" fill="none" stroke="#006400" stroke-width="1.8"/><rect x="194.4" y="69.5" width="5.9" height="5.9" fill="none" stroke="#006400" stroke-width="1.8"/><rect x="202.2" y="75.5" width="5.9" height="5.9" fill="none" stroke="#006400" stroke-width="1.8"/><rect x="209.9" y="81.6" width="5.9" height="5.9" fill="none" stroke="#006400" stroke-width="1.8"/><rect x="217.6" y="88.0" width="5.9" height="5.9" fill="none" stroke="#006400" stroke-width="1.8"/><rect x="225.3" y="94.6" width="5.9" height="5.9" fill="none" stroke="#006400" stroke-width="1.8"/><rect x="233.0" y="101.3" width="5.9" height="5.9" fill="none" stroke="#006400" stroke-width="1.8"/><rect x="240.7" y="108.8" width="5.9" height="5.9" fill="none" stroke="#006400" stroke-width="1.8"/><rect x="248.4" y="116.2" width="5.9" height="5.9" fill="none" stroke="#006400" stroke-width="1.8"/><rect x="256.1" y="124.0" width="5.9" height="5.9" fill="none" stroke="#006400" stroke-width="1.8"/><rect x="263.8" y="132.4" width="5.9" height="5.9" fill="none" stroke="#006400" stroke-width="1.8"/><rect x="271.6" y="140.5" width="5.9" height="5.9" fill="none" stroke="#006400" stroke-width="1.8"/><rect x="279.3" y="149.2" width="5.9" height="5.9" fill="none" stroke="#006400" stroke-width="1.8"/><rect x="287.0" y="157.7" width="5.9" height="5.9" fill="none" stroke="#006400" stroke-width="1.8"/><rect x="294.7" y="166.8" width="5.9" height="5.9" fill="none" stroke="#006400" stroke-width="1.8"/><rect x="302.4" y="176.1" width="5.9" height="5.9" fill="none" stroke="#006400" stroke-width="1.8"/><rect x="310.1" y="185.2" width="5.9" height="5.9" fill="none" stroke="#006400" stroke-width="1.8"/><rect x="317.8" y="194.5" width="5.9" height="5.9" fill="none" stroke="#006400" stroke-width="1.8"/><rect x="325.5" y="204.6" width="5.9" height="5.9" fill="none" stroke="#006400" stroke-width="1.8"/><rect x="333.2" y="213.2" width="5.9" height="5.9" fill="none" stroke="#006400" stroke-width="1.8"/><rect x="340.9" y="221.6" width="5.9" height="5.9" fill="none" stroke="#006400" stroke-width="1.8"/><rect x="348.7" y="228.1" width="5.9" height="5.9" fill="none" stroke="#006400" stroke-width="1.8"/><rect x="356.4" y="231.5" width="5.9" height="5.9" fill="none" stroke="#006400" stroke-width="1.8"/><rect x="364.1" y="229.6" width="5.9" height="5.9" fill="none" stroke="#006400" stroke-width="1.8"/><rect x="371.8" y="226.1" width="5.9" height="5.9" fill="none" stroke="#006400" stroke-width="1.8"/><rect x="379.5" y="224.1" width="5.9" height="5.9" fill="none" stroke="#006400" stroke-width="1.8"/><rect x="387.2" y="223.2" width="5.9" height="5.9" fill="none" stroke="#006400" stroke-width="1.8"/><rect x="394.9" y="223.7" width="5.9" height="5.9" fill="none" stroke="#006400" stroke-width="1.8"/><rect x="402.6" y="225.0" width="5.9" height="5.9" fill="none" stroke="#006400" stroke-width="1.8"/><rect x="410.3" y="226.2" width="5.9" height="5.9" fill="none" stroke="#006400" stroke-width="1.8"/><rect x="418.0" y="226.4" width="5.9" height="5.9" fill="none" stroke="#006400" stroke-width="1.8"/><rect x="425.8" y="222.9" width="5.9" height="5.9" fill="none" stroke="#006400" stroke-width="1.8"/><rect x="433.5" y="210.9" width="5.9" height="5.9" fill="none" stroke="#006400" stroke-width="1.8"/><rect x="441.2" y="182.1" width="5.9" height="5.9" fill="none" stroke="#006400" stroke-width="1.8"/><rect x="448.9" y="135.1" width="5.9" height="5.9" fill="none" stroke="#006400" stroke-width="1.8"/><rect x="456.6" y="79.3" width="5.9" height="5.9" fill="none" stroke="#006400" stroke-width="1.8"/><rect x="464.3" y="22.7" width="5.9" height="5.9" fill="none" stroke="#006400" stroke-width="1.8"/></g>
<polyline clip-path="url(#cr)" points="482.3,163.5 483.8,163.5 485.3,163.5 486.8,163.5 488.3,163.5 489.8,163.6 491.3,163.6 492.8,163.6 494.3,163.6 495.8,163.7 497.3,163.7 498.8,163.8 500.3,163.8 501.8,163.8 503.3,163.9 504.8,163.9 506.3,164.0 507.8,164.0 509.3,164.1 510.8,164.1 512.2,164.2 513.7,164.3 515.2,164.3 516.7,164.4 518.2,164.4 519.7,164.5 521.2,164.6 522.7,164.6 524.2,164.7 525.7,164.8 527.2,164.9 528.7,165.0 530.2,165.1 531.7,165.2 533.2,165.3 534.7,165.4 536.2,165.5 537.7,165.6 539.2,165.7 540.7,165.8 542.1,166.0 543.6,166.1 545.1,166.3 546.6,166.4 548.1,166.6 549.6,166.7 551.1,166.9 552.6,167.1 554.1,167.3 555.5,167.5 557.0,167.6 558.5,167.8 560.0,168.0 561.5,168.2 563.0,168.4 564.5,168.6 565.9,168.8 567.4,169.0 568.9,169.2 570.4,169.5 571.9,169.7 573.3,169.9 574.8,170.2 576.3,170.4 577.8,170.7 579.2,171.0 580.7,171.3 582.2,171.5 583.7,171.8 585.1,172.2 586.6,172.5 588.0,172.8 589.5,173.2 591.0,173.5 592.4,173.9 593.9,174.3 595.3,174.7 596.7,175.1 598.2,175.5 599.6,175.9 601.1,176.3 602.5,176.8 603.9,177.2 605.4,177.6 606.8,178.1 608.2,178.5 609.6,179.0 611.1,179.4 612.5,179.9 613.9,180.4 615.3,180.8 616.8,181.3 618.2,181.8 619.6,182.3 621.0,182.8 622.4,183.4 623.8,183.9 625.2,184.5 626.6,185.1 627.9,185.6 629.3,186.2 630.7,186.8 632.0,187.5 633.4,188.2 634.7,188.9 635.9,189.7 637.2,190.5 638.4,191.4 639.7,192.2 640.9,193.1 642.1,193.9 643.3,194.8 644.5,195.7 645.7,196.6 646.9,197.6 648.1,198.5 649.2,199.4 650.4,200.4 651.5,201.4 652.7,202.3 653.8,203.4 654.9,204.4 655.9,205.4 657.0,206.5 658.0,207.6 659.0,208.7 660.0,209.9 660.9,211.0 661.9,212.1 662.9,213.3 663.8,214.4 664.8,215.6 665.7,216.8 666.7,217.9 667.6,219.1 668.5,220.3 669.4,221.5 670.3,222.7 671.3,223.8 672.2,225.0 673.1,226.2 674.0,227.4 674.9,228.6 675.8,229.8 676.6,231.0 677.5,232.2 678.4,233.4 679.3,234.7 680.2,235.9 681.1,237.1 681.9,238.3 682.8,239.5 683.7,240.7 684.5,242.0 685.4,243.2 686.3,244.4 687.2,245.6 688.0,246.8 688.9,248.1 689.8,249.3 690.6,250.5 691.5,251.7 692.4,252.9 693.3,254.1 694.3,255.2 695.2,256.4 696.2,257.6 697.1,258.7 698.1,259.9 699.1,261.0 700.1,262.1 701.1,263.2 702.1,264.3 703.1,265.4 704.1,266.5 705.1,267.6 706.2,268.7 707.2,269.8 708.3,270.9 709.3,271.9 710.3,273.0 711.4,274.1 712.4,275.2 713.4,276.3 714.5,277.4 715.6,278.4 716.7,279.5 717.8,280.4 718.9,281.4 720.1,282.3 721.3,283.2 722.5,284.1 723.7,285.0 724.9,285.8 726.2,286.7 727.5,287.5 728.7,288.3 730.0,289.0 731.3,289.8 732.6,290.5 733.9,291.3 735.2,292.0 736.6,292.7 737.9,293.4 739.3,294.1 740.6,294.7 742.0,295.3 743.4,295.8 744.8,296.3 746.2,296.8 747.6,297.3 749.1,297.7 750.5,298.1 752.0,298.4 753.5,298.6 754.9,298.8 756.4,299.0 757.9,299.1 759.4,299.3 760.9,299.3 762.4,299.4 763.9,299.4 765.4,299.3 766.9,299.0 768.4,298.7 769.9,298.3 771.3,297.9 772.7,297.5 774.1,297.0 775.5,296.4 776.8,295.7 778.2,294.9 779.4,294.0 780.6,293.1 781.7,292.1 782.7,291.1 783.8,290.0 784.7,288.8 785.6,287.5 786.4,286.3 787.2,285.0 787.8,283.7 788.4,282.3 789.0,280.9 789.6,279.5 790.1,278.1 790.5,276.6 790.9,275.2 791.3,273.7 791.6,272.3 792.0,270.9 792.3,269.4 792.6,268.0 792.9,266.5 793.2,265.0 793.5,263.6 793.8,262.1 794.1,260.6 794.4,259.2 794.6,257.7 794.9,256.2 795.1,254.7 795.4,253.2 795.6,251.7 795.8,250.3 796.1,248.8 796.3,247.3 796.5,245.8 796.7,244.3 796.9,242.8 797.1,241.3 797.3,239.8 797.6,238.3 797.8,236.8 798.0,235.4 798.2,233.9 798.4,232.4 798.6,230.9 798.8,229.4 799.0,227.9 799.1,226.5 799.3,225.0 799.5,223.5 799.7,222.0 799.9,220.5 800.0,219.0 800.2,217.5 800.4,216.0 800.5,214.6 800.7,213.1 800.9,211.6 801.0,210.1 801.2,208.6 801.3,207.1 801.5,205.6 801.6,204.1 801.8,202.6 801.9,201.2 802.1,199.7 802.2,198.2 802.4,196.7 802.5,195.2 802.7,193.7 802.8,192.2 803.0,190.7 803.1,189.2 803.3,187.7 803.4,186.2 803.6,184.7 803.7,183.3 803.9,181.8 804.0,180.3 804.2,178.8 804.3,177.3 804.5,175.8 804.7,174.3 804.8,172.8 805.0,171.3 805.2,169.8 805.3,168.4 805.5,166.9 805.7,165.4 805.9,163.9 806.0,162.4 806.2,160.9 806.4,159.4 806.6,157.9 806.8,156.5 806.9,155.0 807.1,153.5 807.3,152.0 807.5,150.5 807.7,149.0 807.9,147.5 808.1,146.1 808.2,144.6 808.4,143.1 808.6,141.6 808.8,140.1 809.0,138.6 809.2,137.1 809.4,135.6 809.6,134.2 809.8,132.7 810.0,131.2 810.2,129.7 810.4,128.2 810.6,126.7 810.8,125.3 811.0,123.8 811.2,122.3 811.4,120.8 811.6,119.3 811.9,117.8 812.1,116.4 812.3,114.9 812.5,113.4 812.7,111.9 813.0,110.4 813.2,109.0 813.4,107.5 813.7,106.0 813.9,104.5 814.1,103.0 814.4,101.6 814.6,100.1 814.9,98.6 815.1,97.1 815.4,95.7 815.6,94.2 815.9,92.7 816.2,91.2 816.4,89.8 816.7,88.3 817.0,86.8 817.2,85.3 817.5,83.9 817.8,82.4 818.1,80.9 818.4,79.5 818.7,78.0 818.9,76.5 819.2,75.0 819.5,73.6 819.8,72.1 820.1,70.6 820.4,69.2 820.7,67.7" fill="none" stroke="#000000" stroke-width="1.15" stroke-dasharray="6.3 3.55"/>
<polyline clip-path="url(#cr)" points="482.3,118.4 483.8,118.4 485.3,118.4 486.8,118.4 488.3,118.5 489.8,118.5 491.3,118.5 492.8,118.5 494.3,118.6 495.8,118.6 497.3,118.6 498.8,118.7 500.3,118.7 501.8,118.8 503.3,118.8 504.8,118.8 506.3,118.9 507.8,118.9 509.3,119.0 510.8,119.1 512.3,119.1 513.8,119.2 515.3,119.2 516.8,119.3 518.2,119.3 519.7,119.4 521.2,119.5 522.7,119.5 524.2,119.6 525.7,119.7 527.2,119.7 528.7,119.8 530.2,119.9 531.7,120.0 533.2,120.1 534.7,120.2 536.2,120.3 537.7,120.4 539.2,120.5 540.7,120.7 542.2,120.8 543.7,120.9 545.2,121.0 546.7,121.1 548.2,121.3 549.6,121.4 551.1,121.5 552.6,121.7 554.1,121.8 555.6,121.9 557.1,122.1 558.6,122.2 560.1,122.3 561.6,122.5 563.1,122.6 564.6,122.8 566.1,122.9 567.5,123.1 569.0,123.3 570.5,123.4 572.0,123.6 573.5,123.8 575.0,123.9 576.5,124.1 578.0,124.3 579.5,124.5 580.9,124.7 582.4,124.9 583.9,125.1 585.4,125.3 586.9,125.5 588.4,125.7 589.9,125.9 591.3,126.1 592.8,126.3 594.3,126.5 595.8,126.7 597.3,126.9 598.8,127.1 600.2,127.3 601.7,127.6 603.2,127.8 604.7,128.0 606.2,128.3 607.6,128.5 609.1,128.8 610.6,129.0 612.1,129.3 613.5,129.6 615.0,129.8 616.5,130.1 617.9,130.5 619.4,130.8 620.9,131.2 622.3,131.6 623.7,132.0 625.2,132.4 626.6,132.9 628.0,133.4 629.4,133.9 630.8,134.4 632.2,134.9 633.7,135.4 635.1,135.9 636.5,136.3 637.9,136.8 639.3,137.3 640.8,137.8 642.1,138.3 643.5,138.9 644.9,139.5 646.3,140.1 647.6,140.8 649.0,141.4 650.3,142.1 651.6,142.8 653.0,143.5 654.3,144.3 655.5,145.1 656.8,145.9 658.1,146.7 659.3,147.5 660.5,148.4 661.7,149.3 662.9,150.2 664.1,151.1 665.2,152.1 666.4,153.1 667.5,154.1 668.6,155.1 669.6,156.2 670.7,157.2 671.8,158.3 672.9,159.3 674.0,160.4 675.1,161.5 676.1,162.6 677.0,163.8 677.8,165.0 678.5,166.2 679.1,167.5 679.7,168.9 680.2,170.3 680.8,171.7 681.3,173.2 681.8,174.6 682.3,176.0 682.8,177.5 683.3,178.9 683.9,180.2 684.5,181.6 685.1,183.0 685.8,184.4 686.4,185.7 687.0,187.1 687.6,188.5 688.2,189.8 688.9,191.2 689.5,192.6 690.1,193.9 690.6,195.3 691.2,196.7 691.7,198.1 692.3,199.5 692.8,200.9 693.3,202.3 693.8,203.7 694.3,205.1 694.9,206.5 695.4,207.9 695.9,209.3 696.5,210.7 697.1,212.1 697.7,213.5 698.4,214.8 699.1,216.1 699.8,217.5 700.5,218.8 701.2,220.1 701.8,221.5 702.5,222.8 703.1,224.2 703.7,225.6 704.3,226.9 704.9,228.3 705.4,229.7 706.0,231.1 706.6,232.5 707.2,233.9 707.8,235.2 708.4,236.6 709.0,238.0 709.6,239.3 710.3,240.7 710.9,242.0 711.6,243.3 712.3,244.6 713.1,246.0 713.8,247.3 714.6,248.6 715.4,249.8 716.2,251.1 717.0,252.4 717.8,253.6 718.7,254.9 719.5,256.1 720.4,257.3 721.3,258.5 722.2,259.7 723.2,260.8 724.1,262.0 725.1,263.1 726.1,264.3 727.1,265.4 728.2,266.5 729.2,267.5 730.3,268.6 731.3,269.6 732.5,270.6 733.6,271.6 734.7,272.6 735.9,273.5 737.1,274.5 738.3,275.4 739.5,276.2 740.7,277.1 742.0,277.9 743.3,278.6 744.6,279.4 745.9,280.0 747.3,280.7 748.7,281.3 750.0,282.0 751.4,282.6 752.8,283.2 754.3,283.6 755.7,284.0 757.1,284.2 758.6,284.4 760.1,284.5 761.6,284.7 763.2,284.8 764.7,284.9 766.1,284.9 767.6,284.8 769.1,284.6 770.6,284.2 772.1,283.7 773.5,283.1 774.9,282.4 776.1,281.7 777.3,281.0 778.5,280.1 779.6,279.1 780.7,277.9 781.7,276.7 782.6,275.5 783.4,274.3 784.2,273.0 784.9,271.7 785.6,270.4 786.3,269.0 786.9,267.6 787.5,266.2 788.1,264.8 788.6,263.5 789.2,262.1 789.8,260.7 790.3,259.3 790.8,257.9 791.3,256.4 791.8,255.0 792.2,253.6 792.6,252.1 792.9,250.7 793.3,249.3 793.7,247.8 794.0,246.4 794.3,244.9 794.7,243.4 795.0,242.0 795.3,240.5 795.6,239.0 795.9,237.6 796.2,236.1 796.5,234.6 796.7,233.1 797.0,231.7 797.3,230.2 797.5,228.7 797.8,227.2 798.0,225.7 798.3,224.2 798.5,222.8 798.7,221.3 799.0,219.8 799.2,218.3 799.4,216.8 799.6,215.3 799.8,213.9 800.0,212.4 800.2,210.9 800.4,209.4 800.6,207.9 800.8,206.4 801.0,205.0 801.2,203.5 801.3,202.0 801.5,200.5 801.7,199.0 801.9,197.5 802.0,196.0 802.2,194.5 802.3,193.1 802.5,191.6 802.6,190.1 802.8,188.6 803.0,187.1 803.1,185.6 803.2,184.1 803.4,182.6 803.5,181.1 803.7,179.6 803.8,178.1 804.0,176.6 804.1,175.1 804.3,173.7 804.4,172.2 804.6,170.7 804.7,169.2 804.9,167.7 805.0,166.2 805.2,164.7 805.3,163.2 805.5,161.7 805.7,160.2 805.8,158.7 806.0,157.2 806.2,155.8 806.3,154.3 806.5,152.8 806.7,151.3 806.9,149.8 807.0,148.3 807.2,146.8 807.4,145.3 807.6,143.9 807.8,142.4 807.9,140.9 808.1,139.4 808.3,137.9 808.5,136.4 808.7,134.9 808.9,133.4 809.0,132.0 809.2,130.5 809.4,129.0 809.6,127.5 809.8,126.0 810.0,124.5 810.2,123.0 810.4,121.5 810.6,120.1 810.8,118.6 811.0,117.1 811.2,115.6 811.4,114.1 811.6,112.6 811.8,111.1 812.0,109.7 812.2,108.2 812.4,106.7 812.6,105.2 812.9,103.7 813.1,102.3 813.3,100.8 813.5,99.3 813.8,97.8 814.0,96.3 814.3,94.9 814.5,93.4 814.7,91.9 815.0,90.4 815.3,89.0 815.5,87.5 815.8,86.0 816.0,84.5 816.3,83.1 816.6,81.6 816.9,80.1 817.1,78.6 817.4,77.2 817.7,75.7 818.0,74.2 818.3,72.8 818.6,71.3 818.9,69.8 819.2,68.3 819.5,66.9 819.8,65.4 820.1,63.9 820.4,62.5 820.7,61.0" fill="none" stroke="#ff0000" stroke-width="1.15" stroke-dasharray="6.3 3.55"/>
<polyline clip-path="url(#cr)" points="482.3,69.2 483.8,69.2 485.3,69.3 486.8,69.3 488.3,69.4 489.8,69.4 491.3,69.5 492.8,69.5 494.3,69.5 495.8,69.6 497.3,69.6 498.8,69.7 500.3,69.7 501.8,69.8 503.3,69.8 504.8,69.9 506.3,70.0 507.8,70.0 509.3,70.1 510.8,70.1 512.3,70.2 513.8,70.2 515.3,70.3 516.8,70.4 518.3,70.4 519.8,70.5 521.3,70.6 522.8,70.6 524.3,70.7 525.8,70.8 527.3,70.8 528.7,70.9 530.2,71.0 531.7,71.0 533.2,71.1 534.7,71.2 536.2,71.3 537.7,71.3 539.2,71.4 540.7,71.5 542.2,71.6 543.7,71.7 545.2,71.7 546.7,71.8 548.2,71.9 549.7,72.0 551.2,72.1 552.7,72.2 554.2,72.3 555.7,72.4 557.2,72.5 558.7,72.6 560.2,72.7 561.7,72.8 563.2,72.9 564.7,73.0 566.2,73.1 567.7,73.2 569.2,73.3 570.7,73.4 572.1,73.6 573.6,73.7 575.1,73.8 576.6,73.9 578.1,74.1 579.6,74.2 581.1,74.3 582.6,74.5 584.1,74.6 585.6,74.7 587.1,74.9 588.6,75.0 590.1,75.2 591.6,75.3 593.1,75.5 594.5,75.6 596.0,75.8 597.5,76.0 599.0,76.2 600.5,76.3 602.0,76.5 603.5,76.7 605.0,76.9 606.4,77.1 607.9,77.4 609.4,77.6 610.9,77.8 612.4,78.0 613.9,78.3 615.3,78.5 616.8,78.8 618.3,79.0 619.8,79.3 621.2,79.5 622.7,79.8 624.2,80.0 625.7,80.3 627.1,80.6 628.6,80.9 630.1,81.2 631.5,81.5 633.0,81.9 634.5,82.2 635.9,82.6 637.4,83.0 638.8,83.4 640.2,83.8 641.7,84.3 643.1,84.7 644.5,85.2 646.0,85.7 647.4,86.2 648.8,86.7 650.2,87.2 651.6,87.8 652.9,88.4 654.3,88.9 655.7,89.5 657.1,90.0 658.6,90.5 660.0,91.1 661.4,91.6 662.7,92.3 664.0,93.0 665.2,93.8 666.4,94.6 667.6,95.5 668.8,96.5 670.0,97.4 671.1,98.4 672.3,99.5 673.4,100.5 674.5,101.5 675.6,102.6 676.7,103.6 677.7,104.6 678.8,105.7 679.8,106.8 680.8,107.9 681.8,109.1 682.8,110.2 683.7,111.4 684.6,112.6 685.5,113.8 686.3,115.0 687.2,116.3 688.0,117.6 688.7,118.8 689.5,120.1 690.2,121.4 691.0,122.7 691.6,124.1 692.3,125.4 693.0,126.7 693.6,128.1 694.3,129.5 694.9,130.8 695.5,132.2 696.1,133.6 696.7,135.0 697.2,136.4 697.8,137.8 698.4,139.1 698.9,140.5 699.4,141.9 700.0,143.3 700.5,144.8 701.0,146.2 701.5,147.6 702.0,149.0 702.5,150.4 702.9,151.9 703.4,153.3 703.9,154.7 704.3,156.1 704.8,157.6 705.2,159.0 705.7,160.4 706.1,161.9 706.5,163.3 706.9,164.7 707.3,166.2 707.7,167.6 708.1,169.1 708.5,170.5 708.9,172.0 709.3,173.4 709.6,174.9 710.0,176.3 710.4,177.8 710.8,179.2 711.2,180.7 711.7,182.1 712.1,183.5 712.5,185.0 712.9,186.4 713.4,187.8 713.8,189.3 714.3,190.7 714.8,192.1 715.2,193.5 715.7,195.0 716.2,196.4 716.6,197.8 717.1,199.2 717.6,200.7 718.0,202.1 718.5,203.5 718.9,205.0 719.4,206.4 719.8,207.8 720.3,209.3 720.7,210.7 721.2,212.1 721.7,213.5 722.2,214.9 722.7,216.4 723.2,217.8 723.7,219.2 724.2,220.6 724.7,222.0 725.2,223.4 725.8,224.8 726.4,226.2 727.0,227.5 727.7,228.9 728.4,230.2 729.1,231.5 729.8,232.9 730.6,234.2 731.3,235.5 732.2,236.7 733.0,238.0 733.8,239.2 734.7,240.4 735.6,241.6 736.5,242.8 737.5,244.0 738.5,245.1 739.5,246.2 740.6,247.3 741.6,248.3 742.7,249.3 743.8,250.4 745.0,251.4 746.2,252.4 747.4,253.3 748.6,254.2 749.9,254.9 751.2,255.6 752.5,256.1 753.9,256.6 755.4,257.1 756.8,257.6 758.3,258.0 759.8,258.4 761.3,258.6 762.8,258.7 764.3,258.7 765.8,258.5 767.3,258.3 768.8,257.9 770.3,257.5 771.7,257.1 773.1,256.6 774.4,256.1 775.6,255.3 776.9,254.4 778.1,253.4 779.3,252.3 780.3,251.2 781.3,250.1 782.2,249.0 783.1,247.8 783.9,246.6 784.7,245.3 785.5,243.9 786.2,242.6 786.8,241.2 787.5,239.8 788.0,238.4 788.6,237.1 789.1,235.7 789.6,234.3 790.1,232.8 790.5,231.4 791.0,229.9 791.4,228.5 791.8,227.0 792.2,225.6 792.5,224.1 792.9,222.7 793.2,221.2 793.5,219.7 793.8,218.3 794.1,216.8 794.4,215.3 794.7,213.9 795.0,212.4 795.3,210.9 795.6,209.5 795.9,208.0 796.2,206.5 796.5,205.1 796.9,203.6 797.2,202.1 797.5,200.6 797.8,199.2 798.1,197.7 798.4,196.2 798.7,194.8 799.0,193.3 799.3,191.8 799.6,190.4 799.9,188.9 800.1,187.4 800.4,185.9 800.7,184.5 800.9,183.0 801.2,181.5 801.4,180.0 801.6,178.6 801.9,177.1 802.1,175.6 802.3,174.1 802.5,172.6 802.7,171.1 802.9,169.7 803.1,168.2 803.3,166.7 803.5,165.2 803.6,163.7 803.8,162.2 804.0,160.7 804.2,159.2 804.3,157.8 804.5,156.3 804.7,154.8 804.9,153.3 805.0,151.8 805.2,150.3 805.4,148.8 805.5,147.3 805.7,145.8 805.9,144.3 806.0,142.8 806.2,141.4 806.4,139.9 806.5,138.4 806.7,136.9 806.9,135.4 807.1,133.9 807.2,132.4 807.4,130.9 807.6,129.4 807.8,127.9 808.0,126.5 808.2,125.0 808.4,123.5 808.6,122.0 808.7,120.5 808.9,119.0 809.1,117.5 809.3,116.0 809.5,114.6 809.7,113.1 809.9,111.6 810.1,110.1 810.3,108.6 810.5,107.1 810.7,105.6 810.9,104.2 811.1,102.7 811.3,101.2 811.5,99.7 811.7,98.2 811.9,96.7 812.1,95.2 812.3,93.8 812.5,92.3 812.7,90.8 812.9,89.3 813.2,87.8 813.4,86.3 813.6,84.9 813.8,83.4 814.0,81.9 814.3,80.4 814.5,78.9 814.7,77.4 815.0,76.0 815.2,74.5 815.5,73.0 815.7,71.5 816.0,70.1 816.2,68.6 816.5,67.1 816.8,65.6 817.0,64.1 817.3,62.7 817.6,61.2 817.8,59.7 818.1,58.3 818.4,56.8 818.7,55.3 819.0,53.8 819.2,52.4 819.5,50.9 819.8,49.4 820.1,47.9 820.4,46.5 820.7,45.0" fill="none" stroke="#0000ff" stroke-width="1.15" stroke-dasharray="6.3 3.55"/>
<polyline clip-path="url(#cr)" points="482.3,19.1 483.8,19.1 485.3,19.1 486.8,19.1 488.3,19.1 489.8,19.1 491.3,19.1 492.8,19.1 494.3,19.2 495.8,19.2 497.3,19.2 498.8,19.2 500.3,19.2 501.8,19.2 503.3,19.2 504.8,19.3 506.3,19.3 507.8,19.3 509.3,19.3 510.8,19.4 512.3,19.4 513.8,19.4 515.3,19.4 516.7,19.4 518.2,19.5 519.7,19.5 521.2,19.5 522.7,19.6 524.2,19.6 525.7,19.6 527.2,19.7 528.7,19.7 530.2,19.7 531.7,19.8 533.2,19.9 534.7,19.9 536.2,20.0 537.7,20.0 539.2,20.1 540.7,20.1 542.2,20.2 543.7,20.3 545.2,20.3 546.7,20.4 548.2,20.5 549.7,20.5 551.2,20.6 552.7,20.7 554.2,20.7 555.7,20.8 557.2,20.9 558.7,21.0 560.2,21.0 561.7,21.1 563.1,21.2 564.6,21.3 566.1,21.4 567.6,21.5 569.1,21.6 570.6,21.7 572.1,21.8 573.6,21.9 575.1,22.0 576.6,22.1 578.1,22.2 579.6,22.3 581.1,22.4 582.6,22.5 584.1,22.6 585.6,22.7 587.1,22.8 588.6,22.9 590.0,23.0 591.5,23.2 593.0,23.3 594.5,23.4 596.0,23.6 597.5,23.8 599.0,23.9 600.5,24.1 602.0,24.3 603.4,24.5 604.9,24.7 606.4,24.8 607.9,25.0 609.4,25.2 610.9,25.4 612.4,25.6 613.8,25.9 615.3,26.2 616.8,26.4 618.3,26.7 619.7,27.0 621.2,27.3 622.7,27.6 624.1,27.9 625.6,28.2 627.1,28.5 628.5,28.8 630.0,29.2 631.4,29.5 632.9,29.8 634.4,30.2 635.8,30.5 637.3,30.9 638.7,31.2 640.2,31.6 641.6,32.0 643.1,32.3 644.5,32.7 646.0,33.1 647.4,33.5 648.9,33.9 650.3,34.3 651.8,34.7 653.2,35.2 654.6,35.6 656.0,36.1 657.5,36.6 658.9,37.1 660.3,37.6 661.7,38.2 663.1,38.7 664.5,39.2 665.9,39.7 667.3,40.3 668.7,40.8 670.0,41.5 671.3,42.2 672.6,42.9 673.8,43.7 675.0,44.6 676.2,45.5 677.4,46.5 678.6,47.5 679.7,48.5 680.8,49.5 681.9,50.5 683.0,51.6 684.1,52.6 685.2,53.7 686.2,54.7 687.3,55.8 688.3,56.9 689.3,58.1 690.2,59.2 691.2,60.4 692.1,61.6 692.9,62.8 693.8,64.0 694.6,65.3 695.4,66.6 696.2,67.8 696.9,69.1 697.7,70.5 698.4,71.8 699.1,73.1 699.8,74.4 700.4,75.7 701.1,77.1 701.7,78.5 702.4,79.8 703.0,81.2 703.6,82.6 704.2,83.9 704.7,85.3 705.3,86.7 705.8,88.1 706.3,89.5 706.8,90.9 707.3,92.3 707.8,93.8 708.3,95.2 708.8,96.6 709.2,98.0 709.7,99.5 710.1,100.9 710.6,102.3 711.0,103.7 711.5,105.2 711.9,106.6 712.4,108.0 712.8,109.5 713.3,110.9 713.7,112.3 714.1,113.8 714.6,115.2 715.0,116.6 715.4,118.1 715.8,119.5 716.2,121.0 716.7,122.4 717.1,123.8 717.5,125.3 717.9,126.7 718.3,128.2 718.7,129.6 719.1,131.0 719.5,132.5 719.9,133.9 720.3,135.4 720.6,136.8 721.0,138.3 721.4,139.7 721.7,141.2 722.1,142.6 722.5,144.1 722.9,145.5 723.3,147.0 723.7,148.4 724.1,149.9 724.5,151.3 724.9,152.7 725.3,154.2 725.8,155.6 726.2,157.1 726.6,158.5 727.1,159.9 727.6,161.3 728.0,162.8 728.5,164.2 729.0,165.6 729.4,167.0 729.9,168.4 730.4,169.9 730.9,171.3 731.4,172.7 731.9,174.1 732.4,175.5 733.0,176.9 733.6,178.3 734.1,179.7 734.7,181.0 735.3,182.4 735.9,183.8 736.6,185.1 737.2,186.5 737.9,187.8 738.6,189.2 739.3,190.5 740.0,191.8 740.8,193.1 741.5,194.4 742.3,195.7 743.1,196.9 744.0,198.2 744.9,199.4 745.8,200.6 746.7,201.7 747.7,202.9 748.7,204.1 749.7,205.2 750.8,206.3 751.9,207.4 753.0,208.3 754.2,209.1 755.4,209.9 756.7,210.6 758.1,211.3 759.5,211.9 761.0,212.5 762.5,212.9 763.9,213.2 765.4,213.2 766.9,213.1 768.4,212.8 769.9,212.4 771.4,212.0 772.9,211.5 774.2,211.0 775.4,210.4 776.5,209.6 777.6,208.5 778.7,207.3 779.6,206.0 780.5,204.7 781.3,203.5 782.1,202.2 782.7,200.9 783.4,199.5 784.0,198.2 784.5,196.7 785.0,195.3 785.6,193.9 786.1,192.5 786.6,191.1 787.1,189.7 787.6,188.2 788.1,186.8 788.6,185.4 789.1,184.0 789.6,182.6 790.0,181.1 790.5,179.7 790.9,178.3 791.3,176.8 791.7,175.4 792.1,174.0 792.5,172.5 792.9,171.1 793.3,169.6 793.7,168.2 794.0,166.7 794.4,165.2 794.7,163.8 795.0,162.3 795.3,160.9 795.6,159.4 795.8,157.9 796.1,156.4 796.3,154.9 796.6,153.5 796.8,152.0 797.1,150.5 797.4,149.1 797.7,147.6 798.0,146.1 798.3,144.7 798.6,143.2 798.9,141.7 799.3,140.3 799.6,138.8 799.9,137.3 800.2,135.9 800.6,134.4 800.9,132.9 801.2,131.5 801.5,130.0 801.8,128.5 802.1,127.1 802.4,125.6 802.6,124.1 802.9,122.7 803.1,121.2 803.4,119.7 803.6,118.2 803.9,116.8 804.1,115.3 804.3,113.8 804.6,112.3 804.8,110.8 805.0,109.3 805.2,107.9 805.4,106.4 805.6,104.9 805.8,103.4 806.1,101.9 806.3,100.4 806.5,99.0 806.7,97.5 806.9,96.0 807.1,94.5 807.3,93.0 807.5,91.5 807.8,90.1 808.0,88.6 808.2,87.1 808.4,85.6 808.7,84.1 808.9,82.7 809.1,81.2 809.4,79.7 809.6,78.2 809.9,76.8 810.1,75.3 810.4,73.8 810.6,72.3 810.9,70.8 811.1,69.4 811.4,67.9 811.6,66.4 811.9,64.9 812.1,63.5 812.4,62.0 812.7,60.5 812.9,59.0 813.2,57.6 813.4,56.1 813.7,54.6 814.0,53.1 814.2,51.7 814.5,50.2 814.8,48.7 815.0,47.2 815.3,45.8 815.6,44.3 815.8,42.8 816.1,41.3 816.4,39.9 816.6,38.4 816.9,36.9 817.2,35.4 817.4,34.0 817.7,32.5 818.0,31.0 818.2,29.6 818.5,28.1 818.8,26.6 819.0,25.1 819.3,23.7 819.6,22.2 819.9,20.7 820.1,19.2 820.4,17.8 820.7,16.3" fill="none" stroke="#006400" stroke-width="1.15" stroke-dasharray="6.3 3.55"/>
<polyline clip-path="url(#cr)" points="482.3,163.2 489.8,163.3 497.3,163.4 504.9,163.6 512.4,163.9 519.9,164.2 527.4,164.6 534.9,165.1 542.5,165.7 550.0,166.5 557.5,167.4 565.0,168.4 572.5,169.5 580.1,170.8 587.6,172.4 595.1,174.3 602.6,176.5 610.1,178.9 617.7,181.3 625.2,183.7 632.7,186.8 640.2,191.4 647.7,196.7 655.3,203.1 662.8,211.4 670.3,220.7 677.8,230.4 685.3,240.6 692.9,250.8 700.4,259.1 707.9,266.7 715.4,273.3 722.9,278.3 730.5,282.5 738.0,285.7 745.5,288.4 753.0,289.8 760.5,290.5 768.1,290.0 775.6,288.0 783.1,283.8 790.6,271.8 798.1,232.9 805.7,165.2 813.2,108.9 820.7,67.7" fill="none" stroke="#000000" stroke-width="1.75" stroke-linejoin="round"/>
<g><circle cx="482.3" cy="163.2" r="3.10" fill="#000"/><circle cx="489.8" cy="163.3" r="3.10" fill="#000"/><circle cx="497.3" cy="163.4" r="3.10" fill="#000"/><circle cx="504.9" cy="163.6" r="3.10" fill="#000"/><circle cx="512.4" cy="163.9" r="3.10" fill="#000"/><circle cx="519.9" cy="164.2" r="3.10" fill="#000"/><circle cx="527.4" cy="164.6" r="3.10" fill="#000"/><circle cx="534.9" cy="165.1" r="3.10" fill="#000"/><circle cx="542.5" cy="165.7" r="3.10" fill="#000"/><circle cx="550.0" cy="166.5" r="3.10" fill="#000"/><circle cx="557.5" cy="167.4" r="3.10" fill="#000"/><circle cx="565.0" cy="168.4" r="3.10" fill="#000"/><circle cx="572.5" cy="169.5" r="3.10" fill="#000"/><circle cx="580.1" cy="170.8" r="3.10" fill="#000"/><circle cx="587.6" cy="172.4" r="3.10" fill="#000"/><circle cx="595.1" cy="174.3" r="3.10" fill="#000"/><circle cx="602.6" cy="176.5" r="3.10" fill="#000"/><circle cx="610.1" cy="178.9" r="3.10" fill="#000"/><circle cx="617.7" cy="181.3" r="3.10" fill="#000"/><circle cx="625.2" cy="183.7" r="3.10" fill="#000"/><circle cx="632.7" cy="186.8" r="3.10" fill="#000"/><circle cx="640.2" cy="191.4" r="3.10" fill="#000"/><circle cx="647.7" cy="196.7" r="3.10" fill="#000"/><circle cx="655.3" cy="203.1" r="3.10" fill="#000"/><circle cx="662.8" cy="211.4" r="3.10" fill="#000"/><circle cx="670.3" cy="220.7" r="3.10" fill="#000"/><circle cx="677.8" cy="230.4" r="3.10" fill="#000"/><circle cx="685.3" cy="240.6" r="3.10" fill="#000"/><circle cx="692.9" cy="250.8" r="3.10" fill="#000"/><circle cx="700.4" cy="259.1" r="3.10" fill="#000"/><circle cx="707.9" cy="266.7" r="3.10" fill="#000"/><circle cx="715.4" cy="273.3" r="3.10" fill="#000"/><circle cx="722.9" cy="278.3" r="3.10" fill="#000"/><circle cx="730.5" cy="282.5" r="3.10" fill="#000"/><circle cx="738.0" cy="285.7" r="3.10" fill="#000"/><circle cx="745.5" cy="288.4" r="3.10" fill="#000"/><circle cx="753.0" cy="289.8" r="3.10" fill="#000"/><circle cx="760.5" cy="290.5" r="3.10" fill="#000"/><circle cx="768.1" cy="290.0" r="3.10" fill="#000"/><circle cx="775.6" cy="288.0" r="3.10" fill="#000"/><circle cx="783.1" cy="283.8" r="3.10" fill="#000"/><circle cx="790.6" cy="271.8" r="3.10" fill="#000"/><circle cx="798.1" cy="232.9" r="3.10" fill="#000"/><circle cx="805.7" cy="165.2" r="3.10" fill="#000"/><circle cx="813.2" cy="108.9" r="3.10" fill="#000"/><circle cx="820.7" cy="67.7" r="3.10" fill="#000"/></g>
<polyline clip-path="url(#cr)" points="482.3,118.1 489.8,118.2 497.3,118.3 504.9,118.6 512.4,118.8 519.9,119.1 527.4,119.5 534.9,119.9 542.5,120.5 550.0,121.1 557.5,121.8 565.0,122.5 572.5,123.4 580.1,124.3 587.6,125.3 595.1,126.3 602.6,127.4 610.1,128.6 617.7,130.1 625.2,132.1 632.7,134.8 640.2,137.3 647.7,140.5 655.3,144.6 662.8,149.8 670.3,156.5 677.8,164.7 685.3,177.3 692.9,192.7 700.4,212.2 707.9,228.8 715.4,241.7 722.9,251.0 730.5,258.0 738.0,262.4 745.5,265.6 753.0,267.9 760.5,268.7 768.1,268.4 775.6,266.7 783.1,262.0 790.6,250.0 798.1,214.0 805.7,152.8 813.2,98.3 820.7,61.0" fill="none" stroke="#ff0000" stroke-width="1.75" stroke-linejoin="round"/>
<g><rect x="479.2" y="115.0" width="6.2" height="6.2" fill="#f00"/><rect x="486.7" y="115.1" width="6.2" height="6.2" fill="#f00"/><rect x="494.2" y="115.2" width="6.2" height="6.2" fill="#f00"/><rect x="501.8" y="115.5" width="6.2" height="6.2" fill="#f00"/><rect x="509.3" y="115.7" width="6.2" height="6.2" fill="#f00"/><rect x="516.8" y="116.0" width="6.2" height="6.2" fill="#f00"/><rect x="524.3" y="116.4" width="6.2" height="6.2" fill="#f00"/><rect x="531.8" y="116.8" width="6.2" height="6.2" fill="#f00"/><rect x="539.4" y="117.4" width="6.2" height="6.2" fill="#f00"/><rect x="546.9" y="118.0" width="6.2" height="6.2" fill="#f00"/><rect x="554.4" y="118.7" width="6.2" height="6.2" fill="#f00"/><rect x="561.9" y="119.4" width="6.2" height="6.2" fill="#f00"/><rect x="569.4" y="120.3" width="6.2" height="6.2" fill="#f00"/><rect x="577.0" y="121.2" width="6.2" height="6.2" fill="#f00"/><rect x="584.5" y="122.2" width="6.2" height="6.2" fill="#f00"/><rect x="592.0" y="123.2" width="6.2" height="6.2" fill="#f00"/><rect x="599.5" y="124.3" width="6.2" height="6.2" fill="#f00"/><rect x="607.0" y="125.5" width="6.2" height="6.2" fill="#f00"/><rect x="614.6" y="127.0" width="6.2" height="6.2" fill="#f00"/><rect x="622.1" y="129.0" width="6.2" height="6.2" fill="#f00"/><rect x="629.6" y="131.7" width="6.2" height="6.2" fill="#f00"/><rect x="637.1" y="134.2" width="6.2" height="6.2" fill="#f00"/><rect x="644.6" y="137.4" width="6.2" height="6.2" fill="#f00"/><rect x="652.2" y="141.5" width="6.2" height="6.2" fill="#f00"/><rect x="659.7" y="146.7" width="6.2" height="6.2" fill="#f00"/><rect x="667.2" y="153.4" width="6.2" height="6.2" fill="#f00"/><rect x="674.7" y="161.6" width="6.2" height="6.2" fill="#f00"/><rect x="682.2" y="174.2" width="6.2" height="6.2" fill="#f00"/><rect x="689.8" y="189.6" width="6.2" height="6.2" fill="#f00"/><rect x="697.3" y="209.1" width="6.2" height="6.2" fill="#f00"/><rect x="704.8" y="225.7" width="6.2" height="6.2" fill="#f00"/><rect x="712.3" y="238.6" width="6.2" height="6.2" fill="#f00"/><rect x="719.8" y="247.9" width="6.2" height="6.2" fill="#f00"/><rect x="727.4" y="254.9" width="6.2" height="6.2" fill="#f00"/><rect x="734.9" y="259.3" width="6.2" height="6.2" fill="#f00"/><rect x="742.4" y="262.5" width="6.2" height="6.2" fill="#f00"/><rect x="749.9" y="264.8" width="6.2" height="6.2" fill="#f00"/><rect x="757.4" y="265.6" width="6.2" height="6.2" fill="#f00"/><rect x="765.0" y="265.3" width="6.2" height="6.2" fill="#f00"/><rect x="772.5" y="263.6" width="6.2" height="6.2" fill="#f00"/><rect x="780.0" y="258.9" width="6.2" height="6.2" fill="#f00"/><rect x="787.5" y="246.9" width="6.2" height="6.2" fill="#f00"/><rect x="795.0" y="210.9" width="6.2" height="6.2" fill="#f00"/><rect x="802.6" y="149.7" width="6.2" height="6.2" fill="#f00"/><rect x="810.1" y="95.2" width="6.2" height="6.2" fill="#f00"/><rect x="817.6" y="57.9" width="6.2" height="6.2" fill="#f00"/></g>
<polyline clip-path="url(#cr)" points="482.3,68.9 489.8,69.1 497.3,69.3 504.9,69.6 512.4,69.9 519.9,70.2 527.4,70.5 534.9,70.9 542.5,71.3 550.0,71.7 557.5,72.2 565.0,72.7 572.5,73.3 580.1,73.9 587.6,74.6 595.1,75.4 602.6,76.3 610.1,77.4 617.7,78.6 625.2,79.9 632.7,81.5 640.2,83.5 647.7,86.0 655.3,89.0 662.8,92.0 670.3,96.5 677.8,102.2 685.3,109.5 692.9,120.1 700.4,135.9 707.9,157.6 715.4,184.3 722.9,204.5 730.5,217.1 738.0,225.7 745.5,231.0 753.0,234.4 760.5,235.8 768.1,235.8 775.6,233.8 783.1,228.0 790.6,213.4 798.1,179.4 805.7,126.3 813.2,79.0 820.7,45.0" fill="none" stroke="#0000ff" stroke-width="1.75" stroke-linejoin="round"/>
<g><path d="M479.2 67.3L485.4 67.3L482.3 72.8Z" fill="#00f"/><path d="M486.7 67.5L492.9 67.5L489.8 73.0Z" fill="#00f"/><path d="M494.2 67.7L500.4 67.7L497.3 73.2Z" fill="#00f"/><path d="M501.8 68.0L508.0 68.0L504.9 73.5Z" fill="#00f"/><path d="M509.3 68.3L515.5 68.3L512.4 73.8Z" fill="#00f"/><path d="M516.8 68.6L523.0 68.6L519.9 74.1Z" fill="#00f"/><path d="M524.3 68.9L530.5 68.9L527.4 74.4Z" fill="#00f"/><path d="M531.8 69.3L538.0 69.3L534.9 74.8Z" fill="#00f"/><path d="M539.4 69.7L545.6 69.7L542.5 75.2Z" fill="#00f"/><path d="M546.9 70.1L553.1 70.1L550.0 75.6Z" fill="#00f"/><path d="M554.4 70.6L560.6 70.6L557.5 76.1Z" fill="#00f"/><path d="M561.9 71.1L568.1 71.1L565.0 76.6Z" fill="#00f"/><path d="M569.4 71.7L575.6 71.7L572.5 77.2Z" fill="#00f"/><path d="M577.0 72.3L583.2 72.3L580.1 77.8Z" fill="#00f"/><path d="M584.5 73.0L590.7 73.0L587.6 78.5Z" fill="#00f"/><path d="M592.0 73.8L598.2 73.8L595.1 79.3Z" fill="#00f"/><path d="M599.5 74.7L605.7 74.7L602.6 80.2Z" fill="#00f"/><path d="M607.0 75.8L613.2 75.8L610.1 81.3Z" fill="#00f"/><path d="M614.6 77.0L620.8 77.0L617.7 82.5Z" fill="#00f"/><path d="M622.1 78.3L628.3 78.3L625.2 83.8Z" fill="#00f"/><path d="M629.6 79.9L635.8 79.9L632.7 85.4Z" fill="#00f"/><path d="M637.1 81.9L643.3 81.9L640.2 87.4Z" fill="#00f"/><path d="M644.6 84.4L650.8 84.4L647.7 89.9Z" fill="#00f"/><path d="M652.2 87.4L658.4 87.4L655.3 92.9Z" fill="#00f"/><path d="M659.7 90.4L665.9 90.4L662.8 95.9Z" fill="#00f"/><path d="M667.2 94.9L673.4 94.9L670.3 100.4Z" fill="#00f"/><path d="M674.7 100.6L680.9 100.6L677.8 106.1Z" fill="#00f"/><path d="M682.2 107.9L688.4 107.9L685.3 113.4Z" fill="#00f"/><path d="M689.8 118.5L696.0 118.5L692.9 124.0Z" fill="#00f"/><path d="M697.3 134.3L703.5 134.3L700.4 139.8Z" fill="#00f"/><path d="M704.8 156.0L711.0 156.0L707.9 161.5Z" fill="#00f"/><path d="M712.3 182.7L718.5 182.7L715.4 188.2Z" fill="#00f"/><path d="M719.8 202.9L726.0 202.9L722.9 208.4Z" fill="#00f"/><path d="M727.4 215.5L733.6 215.5L730.5 221.0Z" fill="#00f"/><path d="M734.9 224.1L741.1 224.1L738.0 229.6Z" fill="#00f"/><path d="M742.4 229.4L748.6 229.4L745.5 234.9Z" fill="#00f"/><path d="M749.9 232.8L756.1 232.8L753.0 238.3Z" fill="#00f"/><path d="M757.4 234.2L763.6 234.2L760.5 239.7Z" fill="#00f"/><path d="M765.0 234.2L771.2 234.2L768.1 239.7Z" fill="#00f"/><path d="M772.5 232.2L778.7 232.2L775.6 237.7Z" fill="#00f"/><path d="M780.0 226.4L786.2 226.4L783.1 231.9Z" fill="#00f"/><path d="M787.5 211.8L793.7 211.8L790.6 217.3Z" fill="#00f"/><path d="M795.0 177.8L801.2 177.8L798.1 183.3Z" fill="#00f"/><path d="M802.6 124.7L808.8 124.7L805.7 130.2Z" fill="#00f"/><path d="M810.1 77.4L816.3 77.4L813.2 82.9Z" fill="#00f"/><path d="M817.6 43.4L823.8 43.4L820.7 48.9Z" fill="#00f"/></g>
<polyline clip-path="url(#cr)" points="482.3,18.8 489.8,18.8 497.3,18.9 504.9,19.0 512.4,19.1 519.9,19.2 527.4,19.4 534.9,19.6 542.5,19.9 550.0,20.2 557.5,20.6 565.0,21.0 572.5,21.5 580.1,22.0 587.6,22.5 595.1,23.2 602.6,24.1 610.1,25.0 617.7,26.3 625.2,27.8 632.7,29.5 640.2,31.3 647.7,33.3 655.3,35.5 662.8,38.3 670.3,41.3 677.8,45.4 685.3,50.7 692.9,58.2 700.4,68.2 707.9,82.7 715.4,105.3 722.9,130.8 730.5,152.0 738.0,166.0 745.5,175.0 753.0,180.3 760.5,183.3 768.1,183.9 775.6,181.3 783.1,173.6 790.6,157.3 798.1,125.0 805.7,82.0 813.2,44.6 820.7,16.3" fill="none" stroke="#006400" stroke-width="1.75" stroke-linejoin="round"/>
<g><rect x="479.4" y="15.9" width="5.9" height="5.9" fill="none" stroke="#006400" stroke-width="1.8"/><rect x="486.9" y="15.9" width="5.9" height="5.9" fill="none" stroke="#006400" stroke-width="1.8"/><rect x="494.4" y="15.9" width="5.9" height="5.9" fill="none" stroke="#006400" stroke-width="1.8"/><rect x="501.9" y="16.0" width="5.9" height="5.9" fill="none" stroke="#006400" stroke-width="1.8"/><rect x="509.4" y="16.1" width="5.9" height="5.9" fill="none" stroke="#006400" stroke-width="1.8"/><rect x="516.9" y="16.2" width="5.9" height="5.9" fill="none" stroke="#006400" stroke-width="1.8"/><rect x="524.5" y="16.4" width="5.9" height="5.9" fill="none" stroke="#006400" stroke-width="1.8"/><rect x="532.0" y="16.7" width="5.9" height="5.9" fill="none" stroke="#006400" stroke-width="1.8"/><rect x="539.5" y="17.0" width="5.9" height="5.9" fill="none" stroke="#006400" stroke-width="1.8"/><rect x="547.0" y="17.3" width="5.9" height="5.9" fill="none" stroke="#006400" stroke-width="1.8"/><rect x="554.5" y="17.7" width="5.9" height="5.9" fill="none" stroke="#006400" stroke-width="1.8"/><rect x="562.1" y="18.1" width="5.9" height="5.9" fill="none" stroke="#006400" stroke-width="1.8"/><rect x="569.6" y="18.5" width="5.9" height="5.9" fill="none" stroke="#006400" stroke-width="1.8"/><rect x="577.1" y="19.1" width="5.9" height="5.9" fill="none" stroke="#006400" stroke-width="1.8"/><rect x="584.6" y="19.6" width="5.9" height="5.9" fill="none" stroke="#006400" stroke-width="1.8"/><rect x="592.1" y="20.2" width="5.9" height="5.9" fill="none" stroke="#006400" stroke-width="1.8"/><rect x="599.7" y="21.2" width="5.9" height="5.9" fill="none" stroke="#006400" stroke-width="1.8"/><rect x="607.2" y="22.1" width="5.9" height="5.9" fill="none" stroke="#006400" stroke-width="1.8"/><rect x="614.7" y="23.4" width="5.9" height="5.9" fill="none" stroke="#006400" stroke-width="1.8"/><rect x="622.2" y="24.9" width="5.9" height="5.9" fill="none" stroke="#006400" stroke-width="1.8"/><rect x="629.8" y="26.6" width="5.9" height="5.9" fill="none" stroke="#006400" stroke-width="1.8"/><rect x="637.3" y="28.4" width="5.9" height="5.9" fill="none" stroke="#006400" stroke-width="1.8"/><rect x="644.8" y="30.3" width="5.9" height="5.9" fill="none" stroke="#006400" stroke-width="1.8"/><rect x="652.3" y="32.5" width="5.9" height="5.9" fill="none" stroke="#006400" stroke-width="1.8"/><rect x="659.8" y="35.3" width="5.9" height="5.9" fill="none" stroke="#006400" stroke-width="1.8"/><rect x="667.3" y="38.3" width="5.9" height="5.9" fill="none" stroke="#006400" stroke-width="1.8"/><rect x="674.9" y="42.4" width="5.9" height="5.9" fill="none" stroke="#006400" stroke-width="1.8"/><rect x="682.4" y="47.8" width="5.9" height="5.9" fill="none" stroke="#006400" stroke-width="1.8"/><rect x="689.9" y="55.2" width="5.9" height="5.9" fill="none" stroke="#006400" stroke-width="1.8"/><rect x="697.4" y="65.2" width="5.9" height="5.9" fill="none" stroke="#006400" stroke-width="1.8"/><rect x="704.9" y="79.8" width="5.9" height="5.9" fill="none" stroke="#006400" stroke-width="1.8"/><rect x="712.5" y="102.3" width="5.9" height="5.9" fill="none" stroke="#006400" stroke-width="1.8"/><rect x="720.0" y="127.9" width="5.9" height="5.9" fill="none" stroke="#006400" stroke-width="1.8"/><rect x="727.5" y="149.1" width="5.9" height="5.9" fill="none" stroke="#006400" stroke-width="1.8"/><rect x="735.0" y="163.1" width="5.9" height="5.9" fill="none" stroke="#006400" stroke-width="1.8"/><rect x="742.5" y="172.1" width="5.9" height="5.9" fill="none" stroke="#006400" stroke-width="1.8"/><rect x="750.1" y="177.4" width="5.9" height="5.9" fill="none" stroke="#006400" stroke-width="1.8"/><rect x="757.6" y="180.4" width="5.9" height="5.9" fill="none" stroke="#006400" stroke-width="1.8"/><rect x="765.1" y="181.0" width="5.9" height="5.9" fill="none" stroke="#006400" stroke-width="1.8"/><rect x="772.6" y="178.4" width="5.9" height="5.9" fill="none" stroke="#006400" stroke-width="1.8"/><rect x="780.1" y="170.7" width="5.9" height="5.9" fill="none" stroke="#006400" stroke-width="1.8"/><rect x="787.7" y="154.4" width="5.9" height="5.9" fill="none" stroke="#006400" stroke-width="1.8"/><rect x="795.2" y="122.0" width="5.9" height="5.9" fill="none" stroke="#006400" stroke-width="1.8"/><rect x="802.7" y="79.0" width="5.9" height="5.9" fill="none" stroke="#006400" stroke-width="1.8"/><rect x="810.2" y="41.6" width="5.9" height="5.9" fill="none" stroke="#006400" stroke-width="1.8"/><rect x="817.8" y="13.4" width="5.9" height="5.9" fill="none" stroke="#006400" stroke-width="1.8"/></g>
<rect x="140.3" y="175.0" width="111.3" height="109.4" fill="#fff"/>
<polyline clip-path="url(#ci)" points="115.6,138.9 127.9,157.7 140.3,175.0 152.7,188.6 165.0,201.7 177.4,214.1 189.8,226.2 202.1,240.2 214.5,254.1 226.9,268.4 239.2,283.9 251.6,299.3 264.0,314.5 276.3,332.1" fill="none" stroke="#000000" stroke-width="1.75" stroke-linejoin="round"/>
<g><circle cx="152.7" cy="188.6" r="3.10" fill="#000"/><circle cx="165.0" cy="201.7" r="3.10" fill="#000"/><circle cx="177.4" cy="214.1" r="3.10" fill="#000"/><circle cx="189.8" cy="226.2" r="3.10" fill="#000"/><circle cx="202.1" cy="240.2" r="3.10" fill="#000"/><circle cx="214.5" cy="254.1" r="3.10" fill="#000"/><circle cx="226.9" cy="268.4" r="3.10" fill="#000"/><circle cx="239.2" cy="283.9" r="3.10" fill="#000"/></g>
<polyline clip-path="url(#ci)" points="115.6,149.5 127.9,173.8 140.3,197.7 152.7,219.0 165.0,233.8 177.4,242.9 189.8,246.0 202.1,249.3 214.5,255.4 226.9,262.3 239.2,272.3 251.6,284.5 264.0,297.2 276.3,309.9" fill="none" stroke="#ff0000" stroke-width="1.75" stroke-linejoin="round"/>
<g><rect x="137.2" y="194.6" width="6.2" height="6.2" fill="#f00"/><rect x="149.6" y="215.9" width="6.2" height="6.2" fill="#f00"/><rect x="161.9" y="230.7" width="6.2" height="6.2" fill="#f00"/><rect x="174.3" y="239.8" width="6.2" height="6.2" fill="#f00"/><rect x="186.7" y="242.9" width="6.2" height="6.2" fill="#f00"/><rect x="199.0" y="246.2" width="6.2" height="6.2" fill="#f00"/><rect x="211.4" y="252.3" width="6.2" height="6.2" fill="#f00"/><rect x="223.8" y="259.2" width="6.2" height="6.2" fill="#f00"/><rect x="236.1" y="269.2" width="6.2" height="6.2" fill="#f00"/><rect x="248.5" y="281.4" width="6.2" height="6.2" fill="#f00"/></g>
<polyline clip-path="url(#ci)" points="115.6,124.7 127.9,153.2 140.3,177.1 152.7,205.6 165.0,232.6 177.4,253.5 189.8,265.7 202.1,262.0 214.5,252.9 226.9,249.6 239.2,251.7 251.6,256.3 264.0,264.4 276.3,272.9" fill="none" stroke="#0000ff" stroke-width="1.75" stroke-linejoin="round"/>
<g><path d="M137.2 175.5L143.4 175.5L140.3 181.0Z" fill="#00f"/><path d="M149.6 204.0L155.8 204.0L152.7 209.5Z" fill="#00f"/><path d="M161.9 231.0L168.1 231.0L165.0 236.5Z" fill="#00f"/><path d="M174.3 251.9L180.5 251.9L177.4 257.4Z" fill="#00f"/><path d="M186.7 264.1L192.9 264.1L189.8 269.6Z" fill="#00f"/><path d="M199.0 260.4L205.2 260.4L202.1 265.9Z" fill="#00f"/><path d="M211.4 251.3L217.6 251.3L214.5 256.8Z" fill="#00f"/><path d="M223.8 248.0L230.0 248.0L226.9 253.5Z" fill="#00f"/><path d="M236.1 250.1L242.3 250.1L239.2 255.6Z" fill="#00f"/><path d="M248.5 254.7L254.7 254.7L251.6 260.2Z" fill="#00f"/></g>
<polyline clip-path="url(#ci)" points="115.6,72.2 127.9,100.1 140.3,128.0 152.7,158.6 165.0,185.0 177.4,210.2 189.8,229.9 202.1,240.2 214.5,234.4 226.9,223.8 239.2,217.7 251.6,215.3 264.0,216.5 276.3,220.5" fill="none" stroke="#006400" stroke-width="1.75" stroke-linejoin="round"/>
<g><rect x="162.1" y="182.1" width="5.9" height="5.9" fill="none" stroke="#006400" stroke-width="1.8"/><rect x="174.4" y="207.2" width="5.9" height="5.9" fill="none" stroke="#006400" stroke-width="1.8"/><rect x="186.8" y="226.9" width="5.9" height="5.9" fill="none" stroke="#006400" stroke-width="1.8"/><rect x="199.2" y="237.2" width="5.9" height="5.9" fill="none" stroke="#006400" stroke-width="1.8"/><rect x="211.6" y="231.5" width="5.9" height="5.9" fill="none" stroke="#006400" stroke-width="1.8"/><rect x="223.9" y="220.9" width="5.9" height="5.9" fill="none" stroke="#006400" stroke-width="1.8"/><rect x="236.3" y="214.8" width="5.9" height="5.9" fill="none" stroke="#006400" stroke-width="1.8"/><rect x="248.7" y="212.4" width="5.9" height="5.9" fill="none" stroke="#006400" stroke-width="1.8"/></g>
<circle cx="140.3" cy="175.0" r="3.10" fill="#000"/>
<rect x="140.3" y="175.0" width="111.3" height="109.4" fill="none" stroke="#2a2a2a" stroke-width="1"/>
<line x1="189.8" y1="284.4" x2="189.8" y2="291.9" stroke="#2a2a2a" stroke-width="1"/>
<line x1="132.8" y1="206.3" x2="140.3" y2="206.3" stroke="#2a2a2a" stroke-width="1"/>
<rect x="120.3" y="6.4" width="346.9" height="319.9" fill="none" stroke="#000" stroke-width="1.2"/>
<line x1="112.1" y1="326.3" x2="120.3" y2="326.3" stroke="#2a2a2a" stroke-width="1.1"/>
<line x1="112.1" y1="274.7" x2="120.3" y2="274.7" stroke="#2a2a2a" stroke-width="1.1"/>
<line x1="112.1" y1="223.2" x2="120.3" y2="223.2" stroke="#2a2a2a" stroke-width="1.1"/>
<line x1="112.1" y1="171.7" x2="120.3" y2="171.7" stroke="#2a2a2a" stroke-width="1.1"/>
<line x1="112.1" y1="120.1" x2="120.3" y2="120.1" stroke="#2a2a2a" stroke-width="1.1"/>
<line x1="112.1" y1="68.6" x2="120.3" y2="68.6" stroke="#2a2a2a" stroke-width="1.1"/>
<line x1="112.1" y1="17.1" x2="120.3" y2="17.1" stroke="#2a2a2a" stroke-width="1.1"/>
<rect x="482.3" y="6.4" width="339.2" height="319.9" fill="none" stroke="#000" stroke-width="1.2"/>
<line x1="474.1" y1="326.3" x2="482.3" y2="326.3" stroke="#2a2a2a" stroke-width="1.1"/>
<line x1="474.1" y1="274.7" x2="482.3" y2="274.7" stroke="#2a2a2a" stroke-width="1.1"/>
<line x1="474.1" y1="223.2" x2="482.3" y2="223.2" stroke="#2a2a2a" stroke-width="1.1"/>
<line x1="474.1" y1="171.7" x2="482.3" y2="171.7" stroke="#2a2a2a" stroke-width="1.1"/>
<line x1="474.1" y1="120.1" x2="482.3" y2="120.1" stroke="#2a2a2a" stroke-width="1.1"/>
<line x1="474.1" y1="68.6" x2="482.3" y2="68.6" stroke="#2a2a2a" stroke-width="1.1"/>
<line x1="474.1" y1="17.1" x2="482.3" y2="17.1" stroke="#2a2a2a" stroke-width="1.1"/>
<line x1="120.3" y1="326.3" x2="120.3" y2="334.3" stroke="#2a2a2a" stroke-width="1.1"/>
<line x1="274.5" y1="326.3" x2="274.5" y2="334.3" stroke="#2a2a2a" stroke-width="1.1"/>
<line x1="428.7" y1="326.3" x2="428.7" y2="334.3" stroke="#2a2a2a" stroke-width="1.1"/>
<line x1="482.3" y1="326.3" x2="482.3" y2="334.3" stroke="#2a2a2a" stroke-width="1.1"/>
<line x1="632.8" y1="326.3" x2="632.8" y2="334.3" stroke="#2a2a2a" stroke-width="1.1"/>
<line x1="783.3" y1="326.3" x2="783.3" y2="334.3" stroke="#2a2a2a" stroke-width="1.1"/>
<line x1="563.5" y1="236.2" x2="618.7" y2="236.2" stroke="#000000" stroke-width="1.9"/>
<circle cx="591.1" cy="236.2" r="3.10" fill="#000"/>
<line x1="563.5" y1="262.3" x2="618.7" y2="262.3" stroke="#ff0000" stroke-width="1.9"/>
<rect x="588.0" y="259.2" width="6.2" height="6.2" fill="#f00"/>
<line x1="563.5" y1="288.0" x2="618.7" y2="288.0" stroke="#0000ff" stroke-width="1.9"/>
<path d="M588.0 286.4L594.2 286.4L591.1 291.9Z" fill="#00f"/>
<line x1="563.5" y1="313.4" x2="618.7" y2="313.4" stroke="#006400" stroke-width="1.9"/>
<rect x="588.1" y="310.4" width="5.9" height="5.9" fill="none" stroke="#006400" stroke-width="1.8"/>
<g font-family="'Liberation Serif', serif" stroke="#fff" stroke-width="0.22" paint-order="fill" style="vector-effect:non-scaling-stroke;opacity:0.999">
<text transform="translate(41.43,25.64) scale(3.4311,3.4265)" font-size="10" fill="#111" vector-effect="non-scaling-stroke">0.35</text>
<text transform="translate(57.91,77.18) scale(3.4872,3.4265)" font-size="10" fill="#111" vector-effect="non-scaling-stroke">0.3</text>
<text transform="translate(41.43,128.72) scale(3.4311,3.4265)" font-size="10" fill="#111" vector-effect="non-scaling-stroke">0.25</text>
<text transform="translate(57.89,180.26) scale(3.5325,3.4265)" font-size="10" fill="#111" vector-effect="non-scaling-stroke">0.2</text>
<text transform="translate(41.43,231.80) scale(3.4311,3.4265)" font-size="10" fill="#111" vector-effect="non-scaling-stroke">0.15</text>
<text transform="translate(57.08,283.34) scale(3.5478,3.4265)" font-size="10" fill="#111" vector-effect="non-scaling-stroke">0.1</text>
<text transform="translate(41.43,334.88) scale(3.4311,3.4265)" font-size="10" fill="#111" vector-effect="non-scaling-stroke">0.05</text>
<text transform="translate(111.66,379.45) scale(3.4762,3.4963)" font-size="10" fill="#111" vector-effect="non-scaling-stroke">0</text>
<text transform="translate(252.09,379.28) scale(3.5325,3.4706)" font-size="10" fill="#111" vector-effect="non-scaling-stroke">0.2</text>
<text transform="translate(407.03,379.28) scale(3.4142,3.4706)" font-size="10" fill="#111" vector-effect="non-scaling-stroke">0.4</text>
<text transform="translate(474.21,379.45) scale(3.4762,3.4963)" font-size="10" fill="#111" vector-effect="non-scaling-stroke">0</text>
<text transform="translate(610.89,379.28) scale(3.5325,3.4706)" font-size="10" fill="#111" vector-effect="non-scaling-stroke">0.2</text>
<text transform="translate(762.43,379.28) scale(3.4142,3.4706)" font-size="10" fill="#111" vector-effect="non-scaling-stroke">0.4</text>
<text transform="translate(167.32,319.49) scale(3.4530,3.3824)" font-size="10" fill="#111" vector-effect="non-scaling-stroke">0.3</text>
<text transform="translate(351.75,46.46) scale(3.2157,3.6484)" font-size="10" fill="#111" vector-effect="non-scaling-stroke">(</text>
<text transform="translate(363.25,46.06) scale(3.8481,3.3750)" font-size="10" fill="#111" vector-effect="non-scaling-stroke">a</text>
<text transform="translate(380.75,46.46) scale(3.1538,3.6484)" font-size="10" fill="#111" vector-effect="non-scaling-stroke">)</text>
<text transform="translate(402.56,46.10) scale(3.9091,3.4809)" font-size="10" font-style="italic" fill="#111" vector-effect="non-scaling-stroke">T</text>
<text transform="translate(423.48,50.50) scale(3.0783,2.4122)" font-size="10" fill="#111" vector-effect="non-scaling-stroke">T</text>
<text transform="translate(704.75,46.46) scale(3.2157,3.6484)" font-size="10" fill="#111" vector-effect="non-scaling-stroke">(</text>
<text transform="translate(718.90,46.06) scale(3.4348,3.3759)" font-size="10" fill="#111" vector-effect="non-scaling-stroke">b</text>
<text transform="translate(735.68,46.46) scale(3.0769,3.6484)" font-size="10" fill="#111" vector-effect="non-scaling-stroke">)</text>
<text transform="translate(757.46,46.10) scale(3.9091,3.4809)" font-size="10" font-style="italic" fill="#111" vector-effect="non-scaling-stroke">T</text>
<text transform="translate(779.40,50.48) scale(2.6780,2.4091)" font-size="10" fill="#111" vector-effect="non-scaling-stroke">B</text>
<text transform="translate(492.46,207.60) scale(3.9091,3.4656)" font-size="10" font-style="italic" fill="#111" vector-effect="non-scaling-stroke">T</text>
<text transform="translate(513.47,210.94) scale(2.8539,2.5839)" font-size="10" fill="#111" vector-effect="non-scaling-stroke">p</text>
<path d="M544.30 183.00H549.40V184.00H545.75V214.80H549.40V215.80H544.30Z" fill="#111" stroke="none"/>
<text transform="translate(550.19,207.60) scale(3.5442,3.4656)" font-size="10" fill="#111" vector-effect="non-scaling-stroke">mK</text>
<path d="M609.40 183.00H603.90V184.00H607.95V214.80H603.90V215.80H609.40Z" fill="#111" stroke="none"/>
<text transform="translate(612.90,207.27) scale(3.1304,2.8866)" font-size="10" fill="#111" vector-effect="non-scaling-stroke">:</text>
<text transform="translate(491.66,244.56) scale(3.4205,3.4074)" font-size="10" fill="#111" vector-effect="non-scaling-stroke">200</text>
<text transform="translate(491.66,270.46) scale(3.4205,3.4074)" font-size="10" fill="#111" vector-effect="non-scaling-stroke">250</text>
<text transform="translate(491.66,296.16) scale(3.4205,3.4074)" font-size="10" fill="#111" vector-effect="non-scaling-stroke">300</text>
<text transform="translate(491.66,321.86) scale(3.4205,3.4074)" font-size="10" fill="#111" vector-effect="non-scaling-stroke">350</text>
<text transform="translate(239.21,414.50) scale(3.5878,3.3134)" font-size="10" font-style="italic" fill="#111" vector-effect="non-scaling-stroke">V</text>
<path d="M280.90 390.30H285.60V391.30H282.35V422.20H285.60V423.20H280.90Z" fill="#111" stroke="none"/>
<text transform="translate(286.51,414.09) scale(3.4558,3.4179)" font-size="10" fill="#111" vector-effect="non-scaling-stroke">mV</text>
<path d="M344.00 390.30H339.30V391.30H342.55V422.20H339.30V423.20H344.00Z" fill="#111" stroke="none"/>
<text transform="translate(596.81,414.50) scale(3.5878,3.3134)" font-size="10" font-style="italic" fill="#111" vector-effect="non-scaling-stroke">V</text>
<path d="M638.50 390.30H643.20V391.30H639.95V422.20H643.20V423.20H638.50Z" fill="#111" stroke="none"/>
<text transform="translate(644.11,414.09) scale(3.4558,3.4179)" font-size="10" fill="#111" vector-effect="non-scaling-stroke">mV</text>
<path d="M701.60 390.30H696.90V391.30H700.15V422.20H696.90V423.20H701.60Z" fill="#111" stroke="none"/>
<g transform="translate(29.8,208.4) rotate(-90)"><text transform="translate(-2.65,0.00) scale(4.0727,3.4962)" font-size="10" font-style="italic" fill="#111" vector-effect="non-scaling-stroke">T</text>
<text transform="translate(21.14,5.20) scale(3.3846,2.5303)" font-size="10" font-style="italic" fill="#111" vector-effect="non-scaling-stroke">i</text>
<path d="M43.90 -25.60H48.60V-24.60H45.35V6.80H48.60V7.80H43.90Z" fill="#111" stroke="none"/>
<text transform="translate(49.41,0.00) scale(3.6176,3.4809)" font-size="10" fill="#111" vector-effect="non-scaling-stroke">K</text>
<path d="M81.50 -25.60H76.80V-24.60H80.05V6.80H76.80V7.80H81.50Z" fill="#111" stroke="none"/></g>
</g>
</svg>
</body></html>
